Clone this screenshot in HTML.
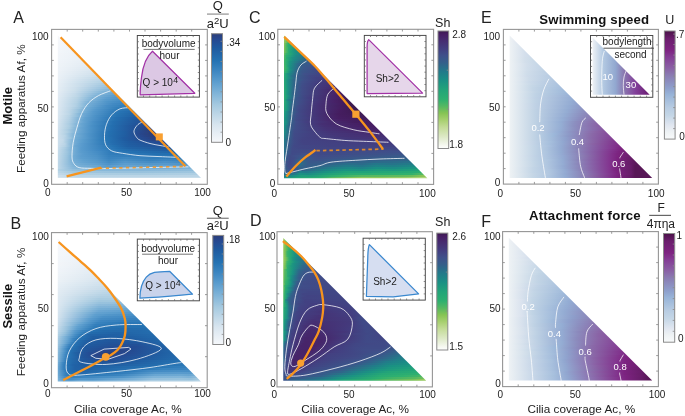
<!DOCTYPE html>
<html><head><meta charset="utf-8"><style>
html,body{margin:0;padding:0;background:#fff}
body{width:685px;height:416px;overflow:hidden;position:relative;font-family:"Liberation Sans",sans-serif}
.h{position:absolute}
.h div{height:2px;width:100%}
svg{position:absolute;left:0;top:0;will-change:transform}
svg text{font-family:"Liberation Sans",sans-serif}
</style></head><body>
<div class="h" style="left:57px;top:35px;width:145px;height:144px;clip-path:polygon(0.83px 0.60px,0.83px 143.10px,144.07px 143.10px)"><div style="background:linear-gradient(90deg,#f6f8fb 0px,#f4f7fa 6px)"></div><div style="background:linear-gradient(90deg,#f6f8fb 0px,#f3f6fa 8px)"></div><div style="background:linear-gradient(90deg,#f6f8fb 0px,#f2f5f9 10px)"></div><div style="background:linear-gradient(90deg,#f5f7fb 0px,#f1f5f9 12px)"></div><div style="background:linear-gradient(90deg,#f4f7fa 0px,#f0f4f9 14px)"></div><div style="background:linear-gradient(90deg,#f4f7fa 0px,#eff3f8 16px)"></div><div style="background:linear-gradient(90deg,#f3f6fa 0px,#eef3f8 18px)"></div><div style="background:linear-gradient(90deg,#f3f6fa 0px,#edf2f7 20px)"></div><div style="background:linear-gradient(90deg,#f2f6fa 0px,#ecf2f7 22px)"></div><div style="background:linear-gradient(90deg,#f2f5f9 0px,#ebf1f7 24px)"></div><div style="background:linear-gradient(90deg,#f1f5f9 0px,#eaf0f6 26px)"></div><div style="background:linear-gradient(90deg,#f1f5f9 0px,#e8eff6 28px)"></div><div style="background:linear-gradient(90deg,#f0f5f9 0px,#e7eef5 30px)"></div><div style="background:linear-gradient(90deg,#f0f4f9 0px,#e4edf4 32px)"></div><div style="background:linear-gradient(90deg,#eff4f8 0px,#e2ebf3 34px)"></div><div style="background:linear-gradient(90deg,#eff4f8 0px,#dfe9f2 36px)"></div><div style="background:linear-gradient(90deg,#eef3f8 0px,#dbe7f0 38px)"></div><div style="background:linear-gradient(90deg,#eef3f8 0px,#d8e5ef 38px,#d7e4ef 40px)"></div><div style="background:linear-gradient(90deg,#edf2f7 0px,#d4e3ee 38px,#d0e1ed 42px)"></div><div style="background:linear-gradient(90deg,#ecf2f7 0px,#d1e1ed 38px,#caddeb 44px)"></div><div style="background:linear-gradient(90deg,#ebf1f7 0px,#cee0ec 36px,#c2d9e9 46px)"></div><div style="background:linear-gradient(90deg,#ebf1f6 0px,#c4dae9 40px,#bbd5e6 48px)"></div><div style="background:linear-gradient(90deg,#eaf0f6 0px,#b6d2e5 48px,#b2d1e4 50px)"></div><div style="background:linear-gradient(90deg,#e9f0f6 0px,#adcee2 50px,#a9cce1 52px)"></div><div style="background:linear-gradient(90deg,#e8eff5 0px,#c6dbea 26px,#a0c7df 52px,#9dc5de 54px)"></div><div style="background:linear-gradient(90deg,#e7eff5 0px,#cbdeeb 22px,#97c1dd 52px,#8ebcdb 56px)"></div><div style="background:linear-gradient(90deg,#e6eef5 0px,#cddfec 18px,#8abada 54px,#7fb4d8 58px)"></div><div style="background:linear-gradient(90deg,#e6eef4 0px,#ccdfeb 18px,#71abd4 60px)"></div><div style="background:linear-gradient(90deg,#e5edf4 0px,#c9ddeb 18px,#82b5d8 46px,#65a3d1 62px)"></div><div style="background:linear-gradient(90deg,#e4ecf4 0px,#c4dae9 18px,#7bb1d7 44px,#5a9ccd 64px)"></div><div style="background:linear-gradient(90deg,#e3ecf3 0px,#bed7e7 20px,#75add5 42px,#5699cc 60px,#5196ca 66px)"></div><div style="background:linear-gradient(90deg,#e2ebf3 0px,#b8d4e5 20px,#7eb3d8 36px,#5d9ecf 50px,#4990c6 68px)"></div><div style="background:linear-gradient(90deg,#e1ebf3 0px,#b5d2e5 20px,#7fb3d8 34px,#5a9ccd 48px,#448cc4 66px,#428ac3 70px)"></div><div style="background:linear-gradient(90deg,#e0eaf2 0px,#b3d1e4 20px,#7ab0d6 32px,#5095c9 50px,#3e87c2 66px,#3b85c0 72px)"></div><div style="background:linear-gradient(90deg,#e0eaf2 0px,#afcfe3 20px,#73acd5 32px,#428ac3 56px,#3580bc 74px)"></div><div style="background:linear-gradient(90deg,#dfe9f2 0px,#b5d2e5 18px,#9bc4de 24px,#71abd4 32px,#468dc5 50px,#337fbb 66px,#2d7ab8 76px)"></div><div style="background:linear-gradient(90deg,#dee9f2 0px,#bbd5e6 14px,#a0c6df 22px,#70aad4 30px,#579acc 40px,#337fbb 60px,#2572b2 78px)"></div><div style="background:linear-gradient(90deg,#dee9f1 0px,#bfd7e7 12px,#9ec5de 20px,#6ea9d3 30px,#5699cc 38px,#2e7ab8 60px,#236bac 80px)"></div><div style="background:linear-gradient(90deg,#dde8f1 0px,#bcd6e7 12px,#9dc5de 20px,#71abd4 28px,#5699cc 36px,#2774b4 62px,#2163a7 82px)"></div><div style="background:linear-gradient(90deg,#dce8f1 0px,#bed7e7 12px,#9ec5de 18px,#70aad4 26px,#5598cb 36px,#2674b3 60px,#205da1 84px)"></div><div style="background:linear-gradient(90deg,#dce7f0 0px,#b8d4e5 12px,#93bfdc 20px,#68a5d2 28px,#4c92c7 38px,#2572b2 60px,#20589d 86px)"></div><div style="background:linear-gradient(90deg,#dbe7f0 0px,#b6d2e5 12px,#89b9da 20px,#61a1d0 28px,#3680bd 48px,#2470b1 58px,#1f5ba0 78px,#225399 88px)"></div><div style="background:linear-gradient(90deg,#dae6f0 0px,#b3d1e4 12px,#66a4d1 26px,#498fc6 38px,#2470b0 58px,#20589e 78px,#244e95 90px)"></div><div style="background:linear-gradient(90deg,#d9e6ef 0px,#b0cfe3 12px,#68a5d2 26px,#498fc6 36px,#246fb0 56px,#21559b 80px,#264991 92px)"></div><div style="background:linear-gradient(90deg,#d8e5ef 0px,#accde2 12px,#69a6d2 24px,#4990c6 36px,#246fb0 56px,#21559b 78px,#27468c 92px,#284486 94px)"></div><div style="background:linear-gradient(90deg,#d6e4ee 0px,#aecee2 12px,#6ba7d2 24px,#4b91c7 34px,#2470b0 54px,#21549a 76px,#27468b 90px,#2b407d 96px)"></div><div style="background:linear-gradient(90deg,#d5e3ee 0px,#abcde1 12px,#6da8d3 22px,#4c92c8 34px,#2470b1 54px,#21549a 76px,#284588 88px,#2c3e78 98px)"></div><div style="background:linear-gradient(90deg,#d4e3ee 0px,#aecee2 10px,#6fa9d3 22px,#5095c9 32px,#246fb0 54px,#21549a 76px,#2a4280 90px,#2c3e78 96px,#2c3e78 100px)"></div><div style="background:linear-gradient(90deg,#d2e2ed 0px,#b1d0e3 10px,#6da8d3 22px,#4c91c7 34px,#2470b1 52px,#205ea2 68px,#27478d 84px,#2c3e78 96px,#2c3e78 102px)"></div><div style="background:linear-gradient(90deg,#d2e2ed 0px,#b5d2e4 8px,#92bedc 14px,#6fa9d3 20px,#4e93c8 32px,#2470b0 52px,#205ea2 68px,#27468b 84px,#2c3e78 96px,#2c3e78 104px)"></div><div style="background:linear-gradient(90deg,#d1e1ed 0px,#bad5e6 8px,#91bedc 14px,#71abd4 20px,#4e93c8 32px,#246fb0 52px,#205da1 68px,#27468c 86px,#2b3f7a 96px,#2c3e79 106px)"></div><div style="background:linear-gradient(90deg,#d0e1ed 0px,#c1d8e8 6px,#98c2dd 14px,#73acd4 18px,#599bcd 28px,#2674b3 50px,#205da2 66px,#27468c 90px,#2a417f 96px,#2b407d 108px)"></div><div style="background:linear-gradient(90deg,#cfe0ec 0px,#c4dae9 6px,#8dbbdb 14px,#70aad4 18px,#5a9ccd 26px,#2674b4 50px,#1f5ca0 68px,#27478d 92px,#284486 96px,#294383 110px)"></div><div style="background:linear-gradient(90deg,#cfe0ec 0px,#c2d9e8 6px,#99c3dd 12px,#72abd4 18px,#5e9fcf 24px,#2c79b7 48px,#246eaf 54px,#1f5ba0 72px,#264890 104px,#27468a 112px)"></div><div style="background:linear-gradient(90deg,#cfe0ec 0px,#b9d4e6 8px,#96c0dd 12px,#70aad4 18px,#5b9cce 24px,#2d79b7 48px,#246daf 56px,#205da1 72px,#254a91 114px)"></div><div style="background:linear-gradient(90deg,#cedfec 0px,#b5d2e4 8px,#8abada 14px,#6ba7d2 18px,#5699cc 26px,#2572b2 56px,#2060a4 70px,#225298 104px,#235097 116px)"></div><div style="background:linear-gradient(90deg,#ccdfec 0px,#accde2 8px,#6faad4 18px,#599bcd 24px,#3681bd 46px,#2470b1 60px,#2164a7 72px,#21569b 114px,#20579d 118px)"></div><div style="background:linear-gradient(90deg,#cbdeeb 0px,#a8cbe1 8px,#6faad4 18px,#599bcd 24px,#3e87c2 42px,#2573b3 62px,#236aac 76px,#1f5ca1 112px,#205fa3 120px)"></div><div style="background:linear-gradient(90deg,#caddeb 0px,#9fc6df 10px,#6fa9d3 18px,#5a9ccd 24px,#438bc4 42px,#2f7bb9 54px,#2470b1 76px,#2265a7 116px,#2267a9 122px)"></div><div style="background:linear-gradient(90deg,#c8ddea 0px,#9dc5de 10px,#6ea9d3 18px,#599bcd 26px,#488fc6 40px,#337ebb 52px,#2470b1 96px,#246eaf 124px)"></div><div style="background:linear-gradient(90deg,#c7dcea 0px,#9bc4de 10px,#72acd4 16px,#5c9dce 24px,#4c92c7 40px,#3681bd 52px,#347fbc 72px,#2875b4 112px,#2876b5 126px)"></div><div style="background:linear-gradient(90deg,#c7dcea 0px,#9ac3dd 10px,#73acd5 16px,#5e9fcf 24px,#4f94c9 40px,#3983bf 52px,#3e87c1 70px,#337ebb 96px,#317dba 126px,#337ebb 128px)"></div><div style="background:linear-gradient(90deg,#c6dbea 0px,#99c2dd 10px,#74add5 16px,#60a1d0 26px,#5397ca 40px,#3d87c1 52px,#488fc6 68px,#3983be 94px,#3e87c2 108px,#3983bf 126px,#3f88c2 130px)"></div><div style="background:linear-gradient(90deg,#c5dae9 0px,#98c2dd 10px,#77aed6 16px,#64a3d1 26px,#5598cb 42px,#448cc4 52px,#5296ca 68px,#458cc4 94px,#4b91c7 108px,#438bc4 124px,#4f94c9 132px)"></div><div style="background:linear-gradient(90deg,#c4dae9 0px,#7db2d7 16px,#6ea9d3 24px,#5e9fcf 40px,#4d92c8 52px,#5c9dce 68px,#5397ca 94px,#5799cc 108px,#5095c9 124px,#5fa0cf 134px)"></div><div style="background:linear-gradient(90deg,#c3dae9 0px,#82b5d8 16px,#75add5 24px,#69a6d2 40px,#579acc 50px,#60a0d0 60px,#65a3d1 72px,#5fa0cf 94px,#64a2d0 108px,#5d9ecf 124px,#6ea9d3 136px)"></div><div style="background:linear-gradient(90deg,#c3dae9 0px,#88b8da 16px,#7db2d7 24px,#79b0d6 36px,#62a2d0 50px,#69a6d2 60px,#70aad4 68px,#74add5 72px,#7eb3d7 136px,#7fb3d8 138px)"></div><div style="background:linear-gradient(90deg,#b6d3e5 0px,#93bfdc 16px,#88b9da 38px,#87b8da 86px,#8fbddb 138px,#90bddb 140px)"></div><div style="background:linear-gradient(90deg,#bdd7e7 0px,#a0c7df 18px,#99c2dd 54px,#98c2dd 82px,#9fc6df 140px,#a0c7df 142px)"></div><div style="background:linear-gradient(90deg,#c5dae9 0px,#aecee2 18px,#a9cce1 82px,#afcfe3 144px)"></div><div style="background:linear-gradient(90deg,#cddfec 0px,#bad5e6 20px,#bbd5e6 142px,#bcd6e7 146px)"></div><div style="background:linear-gradient(90deg,#d6e4ee 0px,#c6dbea 22px,#c8ddea 146px)"></div></div>
<div class="h" style="left:57px;top:238px;width:144px;height:144px;clip-path:polygon(0.73px 0.80px,0.73px 143.50px,143.97px 143.50px)"><div style="background:linear-gradient(90deg,#f6f8fb 0px,#f5f7fa 6px)"></div><div style="background:linear-gradient(90deg,#f6f8fb 0px,#f4f7fa 8px)"></div><div style="background:linear-gradient(90deg,#f6f8fb 0px,#f3f6fa 10px)"></div><div style="background:linear-gradient(90deg,#f6f8fb 0px,#f3f6fa 12px)"></div><div style="background:linear-gradient(90deg,#f6f8fb 0px,#f2f6f9 14px)"></div><div style="background:linear-gradient(90deg,#f5f8fb 0px,#f2f5f9 16px)"></div><div style="background:linear-gradient(90deg,#f5f7fb 0px,#f1f5f9 18px)"></div><div style="background:linear-gradient(90deg,#f4f7fa 0px,#f0f4f9 20px)"></div><div style="background:linear-gradient(90deg,#f4f7fa 0px,#eff4f8 22px)"></div><div style="background:linear-gradient(90deg,#f3f6fa 0px,#eef3f8 24px)"></div><div style="background:linear-gradient(90deg,#f3f6fa 0px,#edf2f7 26px)"></div><div style="background:linear-gradient(90deg,#f2f6fa 0px,#ebf1f7 28px)"></div><div style="background:linear-gradient(90deg,#f2f5f9 0px,#eaf0f6 30px)"></div><div style="background:linear-gradient(90deg,#f2f5f9 0px,#e8eff5 32px)"></div><div style="background:linear-gradient(90deg,#f1f5f9 0px,#e6eef5 34px)"></div><div style="background:linear-gradient(90deg,#f0f4f9 0px,#e4edf4 36px)"></div><div style="background:linear-gradient(90deg,#f0f4f9 0px,#e2ebf3 38px)"></div><div style="background:linear-gradient(90deg,#eff4f8 0px,#e0eaf2 40px)"></div><div style="background:linear-gradient(90deg,#eef3f8 0px,#dde8f1 42px)"></div><div style="background:linear-gradient(90deg,#edf2f7 0px,#dbe7f0 44px)"></div><div style="background:linear-gradient(90deg,#ecf2f7 0px,#d8e5ef 46px)"></div><div style="background:linear-gradient(90deg,#ebf1f6 0px,#d4e3ee 48px)"></div><div style="background:linear-gradient(90deg,#e9f0f6 0px,#cfe0ec 50px)"></div><div style="background:linear-gradient(90deg,#e7eff5 0px,#cbdeeb 52px)"></div><div style="background:linear-gradient(90deg,#e6eef5 0px,#cee0ec 38px,#c6dcea 54px)"></div><div style="background:linear-gradient(90deg,#e4edf4 0px,#d0e0ec 32px,#c2d9e8 56px)"></div><div style="background:linear-gradient(90deg,#e3ecf3 0px,#cddfec 30px,#c1d9e8 46px,#bcd6e7 58px)"></div><div style="background:linear-gradient(90deg,#e2ebf3 0px,#c9ddea 30px,#bcd6e7 46px,#b5d2e5 60px)"></div><div style="background:linear-gradient(90deg,#e1ebf2 0px,#c4dae9 30px,#b7d3e5 44px,#b3d1e4 58px,#aecee2 62px)"></div><div style="background:linear-gradient(90deg,#e0eaf2 0px,#bbd5e6 32px,#b1d0e3 44px,#afcfe3 56px,#a5cae0 64px)"></div><div style="background:linear-gradient(90deg,#dfeaf2 0px,#aacce1 42px,#a9cce1 56px,#9ac3dd 66px)"></div><div style="background:linear-gradient(90deg,#dfe9f2 0px,#a2c8df 42px,#a2c8df 56px,#8fbcdb 68px)"></div><div style="background:linear-gradient(90deg,#dee9f2 0px,#98c2dd 42px,#97c1dd 56px,#83b6d9 70px)"></div><div style="background:linear-gradient(90deg,#dee9f1 0px,#8dbbdb 42px,#89b9da 58px,#78afd6 72px)"></div><div style="background:linear-gradient(90deg,#dde8f1 0px,#96c1dd 32px,#81b4d8 42px,#7db2d7 60px,#6da8d3 74px)"></div><div style="background:linear-gradient(90deg,#dce8f1 0px,#96c1dd 28px,#76aed5 42px,#6ea9d3 64px,#62a1d0 76px)"></div><div style="background:linear-gradient(90deg,#dbe7f0 0px,#90bddb 28px,#6ca7d3 42px,#5e9fcf 70px,#589bcc 78px)"></div><div style="background:linear-gradient(90deg,#dae6f0 0px,#8bbada 26px,#64a2d0 40px,#5c9ece 54px,#4f94c9 80px)"></div><div style="background:linear-gradient(90deg,#d9e6ef 0px,#5e9fcf 38px,#5397ca 50px,#458dc5 82px)"></div><div style="background:linear-gradient(90deg,#d8e5ef 0px,#5d9ece 36px,#4b91c7 46px,#3c86c1 84px)"></div><div style="background:linear-gradient(90deg,#d5e4ee 0px,#5d9ecf 32px,#458cc4 44px,#3983bf 74px,#3580bc 86px)"></div><div style="background:linear-gradient(90deg,#d3e2ee 0px,#8cbbdb 18px,#5296ca 34px,#3d86c1 44px,#327dba 72px,#2f7bb9 88px)"></div><div style="background:linear-gradient(90deg,#d1e1ed 0px,#92bedc 14px,#5c9ece 28px,#3a84bf 40px,#2b78b7 64px,#2a77b6 90px)"></div><div style="background:linear-gradient(90deg,#cedfec 0px,#9ac3de 12px,#64a3d1 22px,#347fbc 38px,#2573b3 62px,#2674b4 92px)"></div><div style="background:linear-gradient(90deg,#cbdeeb 0px,#99c2dd 10px,#62a2d0 20px,#2e7bb8 38px,#2571b1 52px,#2471b1 92px,#2572b2 94px)"></div><div style="background:linear-gradient(90deg,#c7dcea 0px,#97c1dd 10px,#5c9ece 20px,#317dba 34px,#2571b2 40px,#236bac 70px,#2470b1 96px)"></div><div style="background:linear-gradient(90deg,#c2d9e9 0px,#9dc5de 8px,#5799cc 18px,#3a84bf 26px,#2571b2 36px,#236aab 46px,#2369ab 82px,#246faf 98px)"></div><div style="background:linear-gradient(90deg,#bdd7e7 0px,#95c0dc 8px,#5196ca 18px,#3883be 24px,#236bac 34px,#2163a6 60px,#246dae 98px,#246daf 100px)"></div><div style="background:linear-gradient(90deg,#b8d4e5 0px,#8cbbdb 8px,#478ec5 18px,#2c79b7 24px,#2265a8 32px,#2060a4 56px,#2369ab 96px,#236cae 102px)"></div><div style="background:linear-gradient(90deg,#b3d1e4 0px,#7cb2d7 8px,#3e87c1 18px,#2573b3 24px,#205ea2 36px,#2060a4 74px,#2269ab 98px,#236bac 104px)"></div><div style="background:linear-gradient(90deg,#aecee2 0px,#6ca8d3 10px,#3c85c0 16px,#2573b3 22px,#1f5ca0 36px,#205ca1 72px,#2266a9 98px,#2369ab 106px)"></div><div style="background:linear-gradient(90deg,#aacce1 0px,#64a3d1 10px,#3a84bf 16px,#2571b2 20px,#205ea2 30px,#21569c 60px,#2162a5 96px,#2268aa 108px)"></div><div style="background:linear-gradient(90deg,#a8cbe1 0px,#6fa9d3 8px,#3e87c1 14px,#2573b3 18px,#205fa3 28px,#21549a 54px,#21569c 82px,#2268aa 110px)"></div><div style="background:linear-gradient(90deg,#a5c9e0 0px,#71abd4 6px,#3c85c0 12px,#2571b2 18px,#1f5ca0 28px,#235096 58px,#235097 80px,#2164a7 108px,#2267a9 112px)"></div><div style="background:linear-gradient(90deg,#a1c7df 0px,#5497cb 8px,#347fbc 12px,#2573b3 16px,#1f5a9f 26px,#244d94 56px,#244c94 78px,#2161a4 108px,#2267a9 114px)"></div><div style="background:linear-gradient(90deg,#9cc4de 0px,#4a91c7 8px,#2b78b7 12px,#246eaf 16px,#21569b 30px,#264890 56px,#26488f 68px,#205da2 106px,#2267a9 116px)"></div><div style="background:linear-gradient(90deg,#98c2dd 0px,#4d92c8 8px,#2a77b6 12px,#246fb0 14px,#21559b 28px,#27468c 46px,#294384 54px,#294485 62px,#244d94 78px,#2161a4 108px,#2267aa 118px)"></div><div style="background:linear-gradient(90deg,#94c0dc 0px,#478ec5 8px,#2774b4 12px,#2162a5 18px,#244d95 32px,#27478e 40px,#2a4281 48px,#2c3f7a 54px,#284487 60px,#254c93 74px,#205fa3 106px,#2268aa 120px)"></div><div style="background:linear-gradient(90deg,#91bedc 0px,#428ac3 8px,#2573b3 12px,#1f5b9f 22px,#264890 36px,#2a4281 44px,#2b407d 54px,#264890 62px,#205fa3 104px,#236aab 122px)"></div><div style="background:linear-gradient(90deg,#8fbddb 0px,#3f88c2 8px,#2571b2 12px,#21559b 26px,#27468a 42px,#294486 52px,#254a92 58px,#205fa3 100px,#236bad 124px)"></div><div style="background:linear-gradient(90deg,#8dbbdb 0px,#3b85c0 8px,#2674b4 10px,#2268aa 16px,#21559b 28px,#254a91 46px,#244c94 56px,#2060a3 98px,#246eaf 126px)"></div><div style="background:linear-gradient(90deg,#88b9da 0px,#3882be 8px,#2572b2 10px,#20589d 26px,#234f95 54px,#1f5ba0 74px,#2369ab 106px,#2471b1 128px)"></div><div style="background:linear-gradient(90deg,#81b5d8 0px,#3d86c1 6px,#2674b3 10px,#2266a9 16px,#1f5a9f 28px,#20579c 54px,#236bac 104px,#2674b4 130px)"></div><div style="background:linear-gradient(90deg,#7bb1d7 0px,#3a84bf 6px,#2572b2 10px,#2163a7 16px,#1f5ca0 28px,#2160a4 60px,#236cad 98px,#2a77b6 124px,#2c79b7 132px)"></div><div style="background:linear-gradient(90deg,#76aed5 0px,#3983bf 6px,#2573b3 10px,#2161a5 18px,#205ea2 28px,#2572b2 94px,#317dba 120px,#347fbc 132px,#3580bc 134px)"></div><div style="background:linear-gradient(90deg,#74acd5 0px,#3a84bf 6px,#2571b2 10px,#2161a5 18px,#2161a4 30px,#2875b5 84px,#3883be 106px,#3983bf 124px,#3f88c2 134px,#428ac3 136px)"></div><div style="background:linear-gradient(90deg,#73acd5 0px,#3580bc 8px,#2573b3 10px,#2163a6 20px,#2976b5 70px,#4189c3 92px,#488fc6 120px,#478ec6 132px,#5397ca 138px)"></div><div style="background:linear-gradient(90deg,#74add5 0px,#3983be 8px,#2571b2 12px,#2268ab 24px,#2b78b7 56px,#3781bd 72px,#5598cb 98px,#599bcd 122px,#579acc 134px,#68a5d2 140px)"></div><div style="background:linear-gradient(90deg,#77afd6 0px,#3983be 8px,#2a77b6 12px,#2674b4 24px,#3a84bf 62px,#69a6d2 98px,#6da9d3 124px,#67a5d1 132px,#80b4d8 142px)"></div><div style="background:linear-gradient(90deg,#7bb1d7 0px,#438bc4 8px,#3781bd 12px,#3983be 22px,#448cc4 42px,#5296ca 66px,#7eb3d8 96px,#83b6d9 124px,#7db2d7 132px,#98c2dd 144px)"></div><div style="background:linear-gradient(90deg,#7fb4d8 0px,#5195ca 8px,#468ec5 14px,#5296ca 22px,#5498cb 26px,#5497cb 36px,#7cb1d7 78px,#95c0dd 96px,#99c3dd 124px,#94c0dc 134px,#abcde1 144px)"></div><div style="background:linear-gradient(90deg,#86b8d9 0px,#60a0d0 8px,#5a9ccd 14px,#68a5d2 20px,#6faad4 24px,#6ba7d2 36px,#77aed6 46px,#84b6d9 60px,#8bbada 66px,#98c2dd 82px,#accde2 94px,#adcee2 126px,#abcde1 134px,#bad5e6 144px)"></div></div>
<div class="h" style="left:284px;top:35px;width:144px;height:144px;clip-path:polygon(0.03px 0.50px,0.03px 143.20px,143.37px 143.20px)"><div style="background:linear-gradient(90deg,#a5cf6e 0px,#88c556 2px,#4fb764 6px)"></div><div style="background:linear-gradient(90deg,#9fcd68 0px,#8fc75c 2px,#7ec256 2px,#54b862 4px,#35b26d 6px,#2caf71 8px)"></div><div style="background:linear-gradient(90deg,#97ca62 0px,#87c455 2px,#49b666 4px,#2caf71 6px,#24a677 10px)"></div><div style="background:linear-gradient(90deg,#90c75c 0px,#7cc257 2px,#4fb764 4px,#2db070 6px,#1e9b7e 12px)"></div><div style="background:linear-gradient(90deg,#8ac658 0px,#59b961 2px,#32b16e 4px,#27aa75 6px,#1b9283 14px)"></div><div style="background:linear-gradient(90deg,#88c555 0px,#53b863 2px,#2caf70 4px,#1d9880 10px,#1d8986 16px)"></div><div style="background:linear-gradient(90deg,#87c455 0px,#51b763 2px,#3bb36b 4px,#2cae71 4px,#1c9681 10px,#1e8587 16px,#1f8288 18px)"></div><div style="background:linear-gradient(90deg,#86c454 0px,#4fb764 2px,#38b26c 4px,#2bae72 4px,#1c9581 10px,#227b89 20px)"></div><div style="background:linear-gradient(90deg,#7ac157 0px,#31b16e 4px,#22a479 6px,#1b8e84 12px,#26748a 22px)"></div><div style="background:linear-gradient(90deg,#6bbd5c 0px,#3bb36b 2px,#2caf71 4px,#1c9581 10px,#1f8387 16px,#2b6c8a 24px)"></div><div style="background:linear-gradient(90deg,#5ab960 0px,#2eb070 2px,#1e9a7f 8px,#1d8986 12px,#31648a 26px)"></div><div style="background:linear-gradient(90deg,#4eb764 0px,#37b26d 2px,#2aad72 2px,#1b9283 8px,#2f678a 22px,#355d8a 28px)"></div><div style="background:linear-gradient(90deg,#46b567 0px,#2eb06f 2px,#1e9b7e 6px,#1d8986 10px,#31648a 22px,#39598a 30px)"></div><div style="background:linear-gradient(90deg,#44b568 0px,#2db070 2px,#1b9482 6px,#2b6d8a 16px,#365c8a 24px,#3c548a 32px)"></div><div style="background:linear-gradient(90deg,#46b567 0px,#2eb070 2px,#1b9383 6px,#2d6a8a 14px,#365c8a 20px,#3f508a 34px)"></div><div style="background:linear-gradient(90deg,#49b666 0px,#31b16f 2px,#20a07b 4px,#1b9183 6px,#2d698a 14px,#375b8a 18px,#404c88 36px)"></div><div style="background:linear-gradient(90deg,#4bb666 0px,#32b16e 2px,#24a678 4px,#1a8f84 6px,#2f668a 14px,#3b568a 20px,#414986 38px)"></div><div style="background:linear-gradient(90deg,#47b567 0px,#2db070 2px,#1b9382 6px,#2c6b8a 12px,#39588a 18px,#414886 34px,#414684 40px)"></div><div style="background:linear-gradient(90deg,#38b26c 0px,#2aad73 2px,#1b8d85 6px,#2f678a 12px,#3a568a 18px,#424584 38px,#424383 42px)"></div><div style="background:linear-gradient(90deg,#2caf71 0px,#1a8f84 4px,#30648a 12px,#3f518a 20px,#424282 40px,#424182 44px)"></div><div style="background:linear-gradient(90deg,#29ac73 0px,#1b9382 4px,#28718a 8px,#385a8a 14px,#414885 26px,#433e80 46px)"></div><div style="background:linear-gradient(90deg,#28aa74 0px,#1b9382 4px,#2c6b8a 10px,#3b558a 16px,#424182 32px,#433b7e 48px)"></div><div style="background:linear-gradient(90deg,#27aa75 0px,#1c8c85 4px,#2f668a 10px,#3f4f89 20px,#433c7e 38px,#44377a 50px)"></div><div style="background:linear-gradient(90deg,#28aa74 0px,#1b8d85 4px,#30668a 10px,#3f508a 18px,#433d7f 34px,#453275 52px)"></div><div style="background:linear-gradient(90deg,#28ab74 0px,#1b8e84 4px,#30658a 10px,#3f4e89 18px,#433b7e 34px,#462e71 54px)"></div><div style="background:linear-gradient(90deg,#29ab74 0px,#1a8f84 4px,#31648a 10px,#404d88 18px,#44377a 38px,#46296e 56px)"></div><div style="background:linear-gradient(90deg,#29ac73 0px,#1a9084 4px,#31638a 10px,#404c88 18px,#462b6f 48px,#472469 58px)"></div><div style="background:linear-gradient(90deg,#2aad73 0px,#1a9084 4px,#32628a 10px,#404d88 18px,#46276c 48px,#472065 60px)"></div><div style="background:linear-gradient(90deg,#2aad72 0px,#1a8f84 4px,#33608a 10px,#404c88 18px,#47256a 50px,#451d60 60px,#441d5e 62px)"></div><div style="background:linear-gradient(90deg,#2bae72 0px,#1b8d85 4px,#345f8a 10px,#404c88 18px,#472368 52px,#441d5e 60px,#401b56 64px)"></div><div style="background:linear-gradient(90deg,#2bae71 0px,#1b9382 4px,#28708a 8px,#375a8a 12px,#414785 20px,#471f65 54px,#3d1a51 66px)"></div><div style="background:linear-gradient(90deg,#2caf71 0px,#1a8f84 4px,#2a6e8a 8px,#3a568a 12px,#424081 24px,#471e63 56px,#3c1a50 66px,#3c1a50 68px)"></div><div style="background:linear-gradient(90deg,#2db070 0px,#1d9880 2px,#207f88 4px,#365c8a 10px,#404a87 18px,#472268 50px,#431d5d 58px,#3c1a50 66px,#3c1a50 70px)"></div><div style="background:linear-gradient(90deg,#2bad72 0px,#1b8c85 4px,#2c6b8a 8px,#3c558a 12px,#434081 24px,#472268 50px,#441d5e 58px,#3c1a50 66px,#3c1a50 72px)"></div><div style="background:linear-gradient(90deg,#29ab74 0px,#1b8e84 4px,#31638a 8px,#404c88 16px,#453276 34px,#451d61 58px,#3c1a50 66px,#3c1a50 74px)"></div><div style="background:linear-gradient(90deg,#27a975 0px,#1b8e84 4px,#32628a 8px,#404d88 14px,#453275 34px,#441d5f 58px,#3c1a50 68px,#3c1a50 76px)"></div><div style="background:linear-gradient(90deg,#25a876 0px,#1b8d85 4px,#33608a 8px,#404c88 14px,#453275 34px,#451d60 58px,#3c1a50 70px,#3c1a50 78px)"></div><div style="background:linear-gradient(90deg,#24a678 0px,#1c8b85 4px,#345f8a 8px,#404a87 14px,#453276 34px,#461d61 56px,#3c1a50 72px,#3c1a50 80px)"></div><div style="background:linear-gradient(90deg,#22a479 0px,#1b9283 2px,#2b6d8a 6px,#38598a 10px,#414785 16px,#453276 34px,#451d60 56px,#3d1a52 74px,#3e1b53 82px)"></div><div style="background:linear-gradient(90deg,#21a17b 0px,#1a9084 2px,#32638a 8px,#404e89 12px,#433f81 22px,#451d60 54px,#3f1b55 76px,#401b57 84px)"></div><div style="background:linear-gradient(90deg,#209f7c 0px,#1b8e85 2px,#375b8a 8px,#404a87 14px,#46276b 44px,#451d60 56px,#411c58 76px,#421c5b 86px)"></div><div style="background:linear-gradient(90deg,#1f9c7d 0px,#1c8b85 2px,#345f8a 8px,#404c88 12px,#433e80 24px,#461e63 54px,#421c5b 76px,#441d5f 86px,#431d5d 88px)"></div><div style="background:linear-gradient(90deg,#1e9b7e 0px,#1d8986 2px,#355e8a 8px,#404b87 12px,#462d71 40px,#472065 56px,#431d5d 76px,#461e63 86px,#441d5e 90px)"></div><div style="background:linear-gradient(90deg,#1e997f 0px,#1a9184 2px,#31638a 6px,#404e89 12px,#433f81 22px,#462b6f 46px,#441d5f 72px,#471e64 88px,#441d5f 92px)"></div><div style="background:linear-gradient(90deg,#1d9880 0px,#1a8f84 2px,#33608a 6px,#404d88 12px,#452f73 38px,#461e62 78px,#471e64 90px,#451d61 94px)"></div><div style="background:linear-gradient(90deg,#1d9780 0px,#1f8387 2px,#345e8a 6px,#404c88 12px,#453074 40px,#471f65 78px,#461e63 96px)"></div><div style="background:linear-gradient(90deg,#1c9681 0px,#208188 2px,#365d8a 6px,#404c88 12px,#453275 42px,#472267 80px,#471f65 98px)"></div><div style="background:linear-gradient(90deg,#1c9581 0px,#217e89 2px,#33618a 6px,#404d89 10px,#414684 18px,#453377 42px,#47256a 82px,#472167 100px)"></div><div style="background:linear-gradient(90deg,#1a9184 0px,#345f8a 6px,#404c88 10px,#414684 20px,#443578 44px,#46276b 90px,#47256a 102px)"></div><div style="background:linear-gradient(90deg,#1c8c85 0px,#355e8a 6px,#404b87 10px,#424484 20px,#443679 48px,#46296e 104px)"></div><div style="background:linear-gradient(90deg,#1d8786 0px,#365c8a 6px,#404b87 10px,#424383 22px,#453477 60px,#462e72 106px)"></div><div style="background:linear-gradient(90deg,#1f8387 0px,#375b8a 6px,#404a87 10px,#424282 22px,#443578 70px,#453276 108px)"></div><div style="background:linear-gradient(90deg,#207f88 0px,#355e8a 4px,#404b87 10px,#424383 18px,#44377a 94px,#443679 110px)"></div><div style="background:linear-gradient(90deg,#217c89 0px,#365d8a 4px,#404b87 10px,#424383 18px,#433c7e 94px,#44397b 112px)"></div><div style="background:linear-gradient(90deg,#227a8a 0px,#375b8a 4px,#404a87 10px,#424383 20px,#433f81 84px,#433c7e 112px,#433c7e 114px)"></div><div style="background:linear-gradient(90deg,#24778a 0px,#385a8a 4px,#414886 10px,#424282 46px,#424282 82px,#424182 110px,#433f80 116px)"></div><div style="background:linear-gradient(90deg,#25758a 0px,#355d8a 4px,#404b87 8px,#414685 18px,#424484 48px,#424483 80px,#414785 108px,#424383 118px)"></div><div style="background:linear-gradient(90deg,#26738a 0px,#375b8a 4px,#404b87 8px,#414684 44px,#414785 80px,#404c88 106px,#414885 120px)"></div><div style="background:linear-gradient(90deg,#27718a 0px,#385a8a 4px,#404a87 8px,#404b87 26px,#414886 42px,#404d88 82px,#3f4f8a 112px,#404d89 122px)"></div><div style="background:linear-gradient(90deg,#29708a 0px,#3a578a 4px,#404a87 8px,#3e518a 22px,#404986 38px,#3c548a 114px,#3d538a 124px)"></div><div style="background:linear-gradient(90deg,#296f8a 0px,#385a8a 2px,#404b87 6px,#3f508a 12px,#3b568a 20px,#404c88 36px,#39598a 114px,#39588a 126px)"></div><div style="background:linear-gradient(90deg,#25768a 0px,#375a8a 2px,#404b87 6px,#404c88 10px,#365c8a 18px,#3f4f89 34px,#365d8a 98px,#355e8a 128px)"></div><div style="background:linear-gradient(90deg,#22798a 0px,#385a8a 2px,#404a87 6px,#3f4e89 10px,#32628a 16px,#3d528a 32px,#34608a 80px,#2e678a 130px)"></div><div style="background:linear-gradient(90deg,#30658a 0px,#3d538a 2px,#414986 6px,#3f4f8a 10px,#2c6b8a 16px,#3a578a 26px,#375b8a 42px,#31648a 74px,#2c6b8a 100px,#2b6c8a 112px,#27738a 132px)"></div><div style="background:linear-gradient(90deg,#32628a 0px,#3f4e89 4px,#414986 6px,#39588a 12px,#296f8a 16px,#2c6a8a 18px,#375b8a 24px,#365c8a 36px,#296f8a 64px,#2c6a8a 78px,#24778a 92px,#27738a 108px,#207f88 134px)"></div><div style="background:linear-gradient(90deg,#32628a 0px,#404d88 4px,#404c88 8px,#2f668a 14px,#2c6b8a 16px,#365d8a 22px,#32628a 34px,#227b89 62px,#25758a 78px,#1f8287 92px,#217f88 110px,#1c8b85 134px,#1b8e85 136px)"></div><div style="background:linear-gradient(90deg,#33608a 0px,#404d88 6px,#3e528a 10px,#33608a 16px,#33618a 26px,#208088 50px,#1d8886 66px,#1f8288 78px,#1a8f84 92px,#1c8c85 110px,#1c9681 132px,#1f9b7e 138px)"></div><div style="background:linear-gradient(90deg,#345f8a 0px,#3e528a 6px,#3a568a 12px,#2f678a 16px,#32628a 18px,#1f8287 40px,#1c9482 60px,#1b9283 78px,#1f9c7e 94px,#1d9880 110px,#21a17b 132px,#25a876 140px)"></div><div style="background:linear-gradient(90deg,#31638a 0px,#375b8a 4px,#345f8a 10px,#28708a 14px,#208188 16px,#207f88 18px,#23798a 22px,#1c9482 44px,#21a37a 64px,#21a37a 80px,#24a678 100px,#28ab74 132px,#30b16f 140px,#34b16e 142px)"></div><div style="background:linear-gradient(90deg,#2a6e8a 0px,#2d6a8a 4px,#227c89 12px,#1b9283 16px,#1c8b85 24px,#209f7c 42px,#2aac73 66px,#2caf71 104px,#30b16f 124px,#33b16e 128px,#60bb5f 142px,#64bc5e 144px)"></div><div style="background:linear-gradient(90deg,#217e89 0px,#1f8387 4px,#1c9581 12px,#209f7c 18px,#1f9d7d 28px,#31b16f 52px,#56b862 78px,#62bb5e 118px,#6bbd5c 128px,#87c455 138px,#93c85e 144px)"></div><div style="background:linear-gradient(90deg,#1b8f84 0px,#24a677 14px,#2caf71 36px,#3eb36a 42px,#56b862 48px,#88c555 72px,#90c85c 78px,#8ec75a 96px,#95c961 108px,#9acb65 122px,#acd276 136px,#b3d580 144px)"></div></div>
<div class="h" style="left:283px;top:237px;width:144px;height:144px;clip-path:polygon(0.22px 0.91px,0.22px 143.69px,143.18px 143.69px)"><div style="background:linear-gradient(90deg,#aad173 0px,#8fc75b 2px,#7fc256 4px,#6bbd5c 4px)"></div><div style="background:linear-gradient(90deg,#a7d06f 0px,#8ac557 2px,#50b764 6px,#40b469 6px)"></div><div style="background:linear-gradient(90deg,#a2ce6b 0px,#83c355 2px,#47b567 6px,#2caf71 8px,#29ac73 8px)"></div><div style="background:linear-gradient(90deg,#9dcc67 0px,#8dc75a 2px,#7ac157 2px,#3fb46a 6px,#2fb06f 6px,#22a379 10px)"></div><div style="background:linear-gradient(90deg,#99cb64 0px,#89c556 2px,#49b666 4px,#2caf71 6px,#1d9780 12px)"></div><div style="background:linear-gradient(90deg,#96ca61 0px,#85c454 2px,#56b862 4px,#31b16f 6px,#21a27a 10px,#1c8c85 14px)"></div><div style="background:linear-gradient(90deg,#94c960 0px,#82c355 2px,#52b763 4px,#2db070 6px,#1a9183 12px,#1f8288 16px)"></div><div style="background:linear-gradient(90deg,#95c960 0px,#82c355 2px,#3cb36b 4px,#2caf71 6px,#1b9382 12px,#227a89 18px)"></div><div style="background:linear-gradient(90deg,#96ca61 0px,#83c355 2px,#3cb36b 4px,#2caf71 6px,#1b9283 12px,#26748a 20px)"></div><div style="background:linear-gradient(90deg,#99cb63 0px,#87c455 2px,#3fb46a 4px,#2caf71 6px,#1b9283 12px,#24768a 20px,#296f8a 22px)"></div><div style="background:linear-gradient(90deg,#9bcb65 0px,#8ac557 2px,#59b961 4px,#2eb070 6px,#1d9780 10px,#1e8587 14px,#2d6a8a 24px)"></div><div style="background:linear-gradient(90deg,#9ccc66 0px,#8bc658 2px,#5ab961 4px,#30b16f 6px,#1d9780 10px,#1e8487 14px,#30648a 26px)"></div><div style="background:linear-gradient(90deg,#9acb64 0px,#88c555 2px,#3fb46a 4px,#2caf71 6px,#1a9183 12px,#27738a 20px,#355e8a 28px)"></div><div style="background:linear-gradient(90deg,#95c961 0px,#81c355 2px,#37b26d 4px,#2bad72 6px,#1b9382 10px,#296f8a 20px,#375a8a 30px)"></div><div style="background:linear-gradient(90deg,#91c85d 0px,#7ac157 2px,#30b16f 4px,#1e9b7e 8px,#1c8b85 12px,#2e688a 20px,#39588a 30px,#3a578a 32px)"></div><div style="background:linear-gradient(90deg,#8dc65a 0px,#74c059 2px,#41b469 4px,#2daf70 4px,#1b9382 10px,#2c6b8a 18px,#375b8a 24px,#3c548a 34px)"></div><div style="background:linear-gradient(90deg,#8ac557 0px,#54b862 2px,#2caf71 4px,#1b9283 10px,#2c6a8a 16px,#375b8a 22px,#3e528a 36px)"></div><div style="background:linear-gradient(90deg,#88c556 0px,#51b763 2px,#3bb36b 4px,#2bae71 4px,#1a9184 10px,#30658a 16px,#3b568a 22px,#3f508a 38px)"></div><div style="background:linear-gradient(90deg,#87c454 0px,#4fb764 2px,#39b26c 4px,#2bae72 4px,#1a8f84 10px,#33608a 16px,#3e518a 24px,#3f4e89 40px)"></div><div style="background:linear-gradient(90deg,#85c454 0px,#4db665 2px,#37b26d 4px,#2aad72 4px,#1c9482 8px,#24768a 12px,#355d8a 16px,#3f4f8a 24px,#404c88 42px)"></div><div style="background:linear-gradient(90deg,#82c355 0px,#4bb666 2px,#34b16e 4px,#25a876 6px,#1b9383 8px,#27738a 12px,#375a8a 16px,#404e89 24px,#404b87 44px)"></div><div style="background:linear-gradient(90deg,#7fc256 0px,#47b567 2px,#2fb06f 4px,#1a9084 8px,#2f678a 14px,#3b558a 18px,#404d88 24px,#404a87 46px)"></div><div style="background:linear-gradient(90deg,#7ac157 0px,#41b469 2px,#2caf71 4px,#1c9581 8px,#227b89 10px,#365d8a 14px,#404d88 20px,#414986 48px)"></div><div style="background:linear-gradient(90deg,#74c059 0px,#54b862 2px,#3ab36b 2px,#2bad72 4px,#1a9184 8px,#2a6d8a 12px,#385a8a 14px,#404c88 20px,#414886 50px)"></div><div style="background:linear-gradient(90deg,#6ebe5b 0px,#32b16e 2px,#23a678 4px,#1c8c85 8px,#33608a 12px,#404e89 18px,#404c88 26px,#414886 52px)"></div><div style="background:linear-gradient(90deg,#67bc5d 0px,#46b567 2px,#2caf71 2px,#1a9084 6px,#365c8a 12px,#404c88 18px,#404b87 28px,#414885 54px)"></div><div style="background:linear-gradient(90deg,#60bb5f 0px,#3eb36a 2px,#2aad72 2px,#1c9482 6px,#2a6e8a 10px,#38598a 12px,#414986 18px,#414785 56px)"></div><div style="background:linear-gradient(90deg,#59b961 0px,#36b26d 2px,#28ab74 2px,#1b8e85 6px,#345f8a 10px,#404b87 16px,#414685 26px,#414785 58px)"></div><div style="background:linear-gradient(90deg,#53b863 0px,#2db070 2px,#1b9283 4px,#2e688a 8px,#3c548a 12px,#414584 20px,#414785 60px)"></div><div style="background:linear-gradient(90deg,#50b764 0px,#2bae71 2px,#1d9680 4px,#217c89 6px,#33608a 8px,#404b87 16px,#424383 24px,#414684 62px)"></div><div style="background:linear-gradient(90deg,#51b763 0px,#2aac73 2px,#1b8e84 4px,#2e678a 6px,#39588a 10px,#424483 20px,#414584 64px)"></div><div style="background:linear-gradient(90deg,#56b862 0px,#29ab73 2px,#1d987f 2px,#23788a 4px,#32628a 6px,#3d538a 12px,#424282 22px,#424584 66px)"></div><div style="background:linear-gradient(90deg,#48b567 0px,#28aa74 2px,#1f9b7e 2px,#1c8a85 4px,#31638a 6px,#3c548a 10px,#424182 22px,#424383 64px,#424483 68px)"></div><div style="background:linear-gradient(90deg,#3eb36a 0px,#27aa75 2px,#1a8f84 4px,#2e688a 6px,#375b8a 8px,#414684 16px,#433e80 30px,#424383 66px,#424484 70px)"></div><div style="background:linear-gradient(90deg,#38b26c 0px,#27aa75 2px,#1b9283 4px,#2b6d8a 6px,#39588a 10px,#424383 18px,#443a7d 42px,#414584 72px)"></div><div style="background:linear-gradient(90deg,#32b16e 0px,#20a07b 2px,#1b9482 4px,#296f8a 6px,#39588a 10px,#424484 16px,#443a7c 32px,#433f81 64px,#414684 74px)"></div><div style="background:linear-gradient(90deg,#2db070 0px,#1c9482 4px,#28708a 6px,#3a578a 10px,#424383 16px,#44377a 38px,#424081 68px,#414785 76px)"></div><div style="background:linear-gradient(90deg,#2caf71 0px,#1b9382 4px,#296f8a 6px,#3b558a 10px,#424383 14px,#443578 38px,#433f81 68px,#414886 78px)"></div><div style="background:linear-gradient(90deg,#2bae72 0px,#1b9283 4px,#2b6d8a 6px,#385a8a 8px,#414685 12px,#433c7e 22px,#453578 44px,#433f81 68px,#404986 80px)"></div><div style="background:linear-gradient(90deg,#2aad72 0px,#1a9084 4px,#2d6a8a 6px,#3a578a 8px,#424282 14px,#453376 36px,#433d7f 68px,#404a86 80px,#404a87 82px)"></div><div style="background:linear-gradient(90deg,#29ac73 0px,#1b8e85 4px,#365c8a 8px,#404a87 10px,#433e80 16px,#453275 36px,#443b7d 66px,#404a87 78px,#404a87 84px)"></div><div style="background:linear-gradient(90deg,#28ab74 0px,#1d9780 2px,#217e89 4px,#385a8a 8px,#424483 12px,#453275 30px,#443a7c 66px,#404986 78px,#404a86 86px)"></div><div style="background:linear-gradient(90deg,#26a975 0px,#1c9582 2px,#227a89 4px,#345f8a 6px,#404a87 10px,#433d7f 14px,#452f73 32px,#443a7c 68px,#404a87 80px,#414986 88px)"></div><div style="background:linear-gradient(90deg,#25a777 0px,#1b9283 2px,#24778a 4px,#365c8a 6px,#414886 10px,#433d7f 14px,#462d71 30px,#443a7d 68px,#404a87 80px,#414886 90px)"></div><div style="background:linear-gradient(90deg,#24a678 0px,#1a8f84 2px,#38598a 6px,#414684 10px,#453174 22px,#462c70 32px,#443b7d 68px,#404a87 82px,#414885 92px)"></div><div style="background:linear-gradient(90deg,#23a578 0px,#1b8d85 2px,#33608a 6px,#3f4f8a 8px,#433f80 12px,#46296e 28px,#433c7e 68px,#404a87 82px,#414785 94px)"></div><div style="background:linear-gradient(90deg,#22a379 0px,#1c8b85 2px,#2b6c8a 4px,#3c548a 6px,#424282 10px,#46286c 28px,#433c7f 68px,#404a87 84px,#414684 96px)"></div><div style="background:linear-gradient(90deg,#21a17b 0px,#1c9581 2px,#23788a 4px,#375a8a 6px,#414584 8px,#46276c 26px,#44377a 62px,#404a87 84px,#424584 98px)"></div><div style="background:linear-gradient(90deg,#209e7c 0px,#1b9283 2px,#27738a 4px,#3a578a 6px,#424383 8px,#46276b 24px,#46276c 36px,#424483 74px,#404a87 88px,#424483 100px)"></div><div style="background:linear-gradient(90deg,#1f9d7d 0px,#1a9084 2px,#355e8a 4px,#404c88 6px,#433f81 10px,#46266b 24px,#46266b 36px,#404a87 84px,#424484 102px)"></div><div style="background:linear-gradient(90deg,#1f9d7d 0px,#1a8f84 2px,#2c6b8a 4px,#375b8a 4px,#404986 6px,#433d7f 10px,#46256a 22px,#46266b 38px,#44397c 62px,#404a87 84px,#414584 104px)"></div><div style="background:linear-gradient(90deg,#1e9b7e 0px,#1b8d85 2px,#2e678a 4px,#3f4f89 6px,#434081 8px,#47256a 22px,#46256a 38px,#443a7c 60px,#404a87 84px,#414785 106px)"></div><div style="background:linear-gradient(90deg,#1b9283 0px,#27738a 2px,#33618a 4px,#404d88 6px,#433f81 8px,#472469 22px,#46256a 38px,#443b7d 58px,#404a87 84px,#414986 106px,#404a87 108px)"></div><div style="background:linear-gradient(90deg,#1d8786 0px,#2e688a 2px,#3e528a 4px,#424182 8px,#472469 20px,#46256a 36px,#433b7d 56px,#414785 74px,#414986 88px,#404b87 106px,#3f4f89 110px)"></div><div style="background:linear-gradient(90deg,#217d89 0px,#33608a 2px,#414986 6px,#47246a 18px,#472368 32px,#433c7e 54px,#414785 72px,#404a87 84px,#404a87 102px,#3c548a 112px)"></div><div style="background:linear-gradient(90deg,#25758a 0px,#375c8a 2px,#414885 6px,#46266b 16px,#472267 28px,#453174 42px,#433d80 54px,#414886 72px,#404b87 84px,#404b87 100px,#38598a 114px)"></div><div style="background:linear-gradient(90deg,#296f8a 0px,#38598a 2px,#424383 6px,#46256a 16px,#472267 28px,#453174 40px,#433e80 52px,#414785 70px,#404c88 80px,#404d88 98px,#345f8a 116px)"></div><div style="background:linear-gradient(90deg,#2b6c8a 0px,#3a578a 2px,#433e80 8px,#47256a 14px,#472268 26px,#453578 40px,#433f81 52px,#414885 72px,#404c88 84px,#3c548a 102px,#2e688a 118px)"></div><div style="background:linear-gradient(90deg,#2d6a8a 0px,#3b568a 2px,#44387b 8px,#472469 14px,#472469 24px,#434081 46px,#414785 70px,#3b558a 98px,#28718a 120px)"></div><div style="background:linear-gradient(90deg,#2c6b8a 0px,#3c558a 2px,#453578 8px,#472368 12px,#472469 22px,#424181 44px,#414986 72px,#39588a 96px,#23798a 120px,#23798a 122px)"></div><div style="background:linear-gradient(90deg,#296f8a 0px,#3c558a 2px,#44377a 8px,#472369 12px,#472368 18px,#424182 42px,#404d88 76px,#33618a 98px,#217e89 118px,#208088 124px)"></div><div style="background:linear-gradient(90deg,#26748a 0px,#3a578a 2px,#424182 6px,#47256a 10px,#472268 16px,#434081 38px,#3e528a 78px,#30658a 94px,#208088 114px,#1e8686 126px)"></div><div style="background:linear-gradient(90deg,#2e688a 0px,#3e518a 2px,#453275 8px,#472469 10px,#46296d 18px,#434081 34px,#3b558a 76px,#2f668a 90px,#217d89 104px,#1b8c85 124px,#1b8d85 128px)"></div><div style="background:linear-gradient(90deg,#345f8a 0px,#414986 4px,#44377a 6px,#46266b 10px,#462e72 18px,#424282 32px,#3a568a 72px,#296f8a 90px,#1e8587 104px,#1b9382 128px,#1b9482 130px)"></div><div style="background:linear-gradient(90deg,#375b8a 0px,#414886 4px,#462c70 8px,#462b6f 12px,#424383 30px,#3a578a 66px,#227b89 90px,#1a9183 108px,#1e9a7f 132px)"></div><div style="background:linear-gradient(90deg,#39588a 0px,#443b7d 6px,#462e71 10px,#414685 28px,#39588a 60px,#1e8686 92px,#1c9681 106px,#21a17b 134px)"></div><div style="background:linear-gradient(90deg,#3b558a 0px,#453477 6px,#453275 10px,#414684 24px,#385a8a 56px,#1f8287 82px,#1c9581 96px,#22a379 122px,#24a677 136px)"></div><div style="background:linear-gradient(90deg,#3c548a 0px,#424383 4px,#453477 6px,#433d80 12px,#404d88 26px,#30658a 58px,#217f88 72px,#1b9482 88px,#23a578 106px,#29ab74 138px)"></div><div style="background:linear-gradient(90deg,#3c548a 0px,#3f4f89 4px,#433e80 6px,#424282 10px,#404a87 14px,#375a8a 40px,#1e8686 70px,#1d9780 82px,#26a876 100px,#30b16f 140px,#32b16e 140px)"></div><div style="background:linear-gradient(90deg,#3d538a 0px,#3f508a 6px,#3c538a 14px,#3f4f8a 18px,#3b568a 22px,#345f8a 38px,#227c89 52px,#1b9482 70px,#29ac73 98px,#30b16f 120px,#40b469 134px,#50b764 142px)"></div><div style="background:linear-gradient(90deg,#3d538a 0px,#365c8a 14px,#385a8a 18px,#25748a 40px,#1b9382 58px,#2db070 96px,#42b469 110px,#58b961 132px,#77c058 144px,#7cc157 144px)"></div><div style="background:linear-gradient(90deg,#3d528a 0px,#30658a 14px,#27728a 30px,#1b9482 50px,#22a479 62px,#2fb06f 86px,#52b763 102px,#78c158 130px,#8ac557 136px,#9dcc67 144px)"></div></div>
<div class="h" style="left:509px;top:35px;width:144px;height:143px;clip-path:polygon(0.60px 0.59px,0.60px 142.91px,143.20px 142.91px)"><div style="background:linear-gradient(90deg,#eff3f5 0px,#e6ebf2 6px)"></div><div style="background:linear-gradient(90deg,#eff3f5 0px,#e3e8f1 8px)"></div><div style="background:linear-gradient(90deg,#eff3f5 0px,#dfe5f0 10px)"></div><div style="background:linear-gradient(90deg,#eff3f5 0px,#dae2ee 12px)"></div><div style="background:linear-gradient(90deg,#eff3f5 0px,#d7e1ed 14px)"></div><div style="background:linear-gradient(90deg,#eff3f5 0px,#d5e0ec 16px)"></div><div style="background:linear-gradient(90deg,#eff3f5 0px,#d4dfec 16px,#d3dfeb 18px)"></div><div style="background:linear-gradient(90deg,#eff3f5 0px,#d4dfec 16px,#d1ddeb 20px)"></div><div style="background:linear-gradient(90deg,#eff3f5 0px,#d4dfec 16px,#cfdcea 22px)"></div><div style="background:linear-gradient(90deg,#eff3f5 0px,#d4dfec 16px,#ccdbe9 24px)"></div><div style="background:linear-gradient(90deg,#eff3f5 0px,#d4dfec 16px,#cad9e8 26px)"></div><div style="background:linear-gradient(90deg,#eff3f5 0px,#d3dfeb 16px,#c8d8e7 28px)"></div><div style="background:linear-gradient(90deg,#eff3f5 0px,#d3dfeb 16px,#c5d7e6 30px)"></div><div style="background:linear-gradient(90deg,#eff3f5 0px,#d3dfeb 16px,#c3d5e6 32px)"></div><div style="background:linear-gradient(90deg,#eff3f5 0px,#d2deeb 18px,#c1d4e5 34px)"></div><div style="background:linear-gradient(90deg,#eff3f5 0px,#d2deeb 18px,#c0d2e5 36px)"></div><div style="background:linear-gradient(90deg,#eff3f5 0px,#d1deeb 18px,#bed1e4 38px)"></div><div style="background:linear-gradient(90deg,#eff3f5 0px,#d1deeb 18px,#bccfe3 40px)"></div><div style="background:linear-gradient(90deg,#eff3f5 0px,#d0ddea 18px,#bccfe3 38px,#bacee3 42px)"></div><div style="background:linear-gradient(90deg,#eff3f5 0px,#cfddea 18px,#bbcee3 40px,#b8cce2 44px)"></div><div style="background:linear-gradient(90deg,#eff3f5 0px,#cfdcea 18px,#bbcee3 38px,#b5c9e1 46px)"></div><div style="background:linear-gradient(90deg,#eff3f5 0px,#cddbe9 20px,#b1c7e0 48px)"></div><div style="background:linear-gradient(90deg,#eff3f5 0px,#cddbe9 20px,#aec5df 50px)"></div><div style="background:linear-gradient(90deg,#eff3f5 0px,#cbdae9 20px,#abc2de 52px)"></div><div style="background:linear-gradient(90deg,#eff3f5 0px,#c9d9e8 22px,#a7bfdd 54px)"></div><div style="background:linear-gradient(90deg,#eff3f5 0px,#c7d8e7 22px,#a4bddc 56px)"></div><div style="background:linear-gradient(90deg,#eff3f5 0px,#c3d5e6 24px,#a0badb 58px)"></div><div style="background:linear-gradient(90deg,#eff3f5 0px,#c3d5e6 24px,#9cb7d9 60px)"></div><div style="background:linear-gradient(90deg,#eff3f5 0px,#c2d4e5 26px,#99b5d8 62px)"></div><div style="background:linear-gradient(90deg,#eff3f5 0px,#c0d3e5 26px,#96b1d6 64px)"></div><div style="background:linear-gradient(90deg,#eff3f5 0px,#c0d3e5 26px,#94acd3 66px)"></div><div style="background:linear-gradient(90deg,#eff3f5 0px,#c0d2e5 26px,#94acd3 64px,#92a7d0 68px)"></div><div style="background:linear-gradient(90deg,#eff3f5 0px,#c0d3e5 26px,#94acd3 64px,#8fa2cd 70px)"></div><div style="background:linear-gradient(90deg,#eff3f5 0px,#c0d3e5 26px,#94acd3 62px,#8e9dca 72px)"></div><div style="background:linear-gradient(90deg,#eff3f5 0px,#c0d2e5 26px,#94acd3 62px,#8d98c7 74px)"></div><div style="background:linear-gradient(90deg,#eff3f5 0px,#c0d2e5 26px,#94acd3 60px,#8d93c3 76px)"></div><div style="background:linear-gradient(90deg,#eff3f5 0px,#c0d2e5 26px,#94acd3 60px,#8c8ebf 78px)"></div><div style="background:linear-gradient(90deg,#eff3f5 0px,#bfd2e4 26px,#94acd3 58px,#8c8cbd 78px,#8b88bb 80px)"></div><div style="background:linear-gradient(90deg,#eff3f5 0px,#bfd2e4 26px,#94acd3 58px,#8c8cbe 76px,#8b82b7 82px)"></div><div style="background:linear-gradient(90deg,#eff3f5 0px,#bfd2e4 26px,#94acd3 56px,#8c8dbe 74px,#8a7db3 84px)"></div><div style="background:linear-gradient(90deg,#eff3f5 0px,#bfd2e4 26px,#94acd3 56px,#8c8ebf 72px,#8a76af 86px)"></div><div style="background:linear-gradient(90deg,#eff3f5 0px,#bfd2e4 26px,#94acd3 54px,#8c8fc0 70px,#8a6fac 88px)"></div><div style="background:linear-gradient(90deg,#eff3f5 0px,#bfd2e4 26px,#94add4 54px,#8c90c1 68px,#8a68a8 90px)"></div><div style="background:linear-gradient(90deg,#eff3f5 0px,#bfd2e4 26px,#94add4 52px,#8c8fc0 66px,#8a62a5 92px)"></div><div style="background:linear-gradient(90deg,#eff3f5 0px,#bfd2e4 26px,#95aed4 52px,#8c92c2 64px,#8a5ea3 92px,#895ca2 94px)"></div><div style="background:linear-gradient(90deg,#eff3f5 0px,#bfd2e4 26px,#95aed4 52px,#8c91c1 64px,#895da3 92px,#8958a0 96px)"></div><div style="background:linear-gradient(90deg,#eff3f5 0px,#bfd2e4 26px,#95add4 52px,#8c8ebf 66px,#88539e 98px)"></div><div style="background:linear-gradient(90deg,#eff3f5 0px,#bfd2e4 26px,#94acd3 52px,#8c8ebf 66px,#874e9c 100px)"></div><div style="background:linear-gradient(90deg,#eff3f5 0px,#bfd2e4 26px,#95aed5 50px,#8d93c3 62px,#8a5ea3 90px,#86489a 102px)"></div><div style="background:linear-gradient(90deg,#eff3f5 0px,#bfd2e4 26px,#9bb6d9 46px,#8d99c7 60px,#8a6ba9 82px,#854397 104px)"></div><div style="background:linear-gradient(90deg,#eff3f5 0px,#bfd2e4 26px,#9eb9da 44px,#8d9bc8 58px,#8a6aa9 82px,#843e95 106px)"></div><div style="background:linear-gradient(90deg,#eff3f5 0px,#bfd2e4 26px,#a3bcdb 42px,#8fa2cd 56px,#8a6dab 80px,#833891 108px)"></div><div style="background:linear-gradient(90deg,#eff3f5 0px,#bfd2e4 26px,#a3bcdb 42px,#8fa2cd 56px,#8a6aa9 82px,#81318c 110px)"></div><div style="background:linear-gradient(90deg,#eff3f5 0px,#c0d2e5 26px,#a5bedc 42px,#91a7d0 54px,#8a6aa9 82px,#81318c 108px,#802b87 112px)"></div><div style="background:linear-gradient(90deg,#eff3f5 0px,#c0d2e5 26px,#a7c0dd 40px,#92a7d0 54px,#8a67a7 82px,#81318c 108px,#7e2482 114px)"></div><div style="background:linear-gradient(90deg,#eff3f5 0px,#c0d3e5 26px,#aac1de 40px,#93aad2 52px,#8b83b7 70px,#833690 104px,#7d2480 114px,#7a237e 116px)"></div><div style="background:linear-gradient(90deg,#eff3f5 0px,#c0d3e5 26px,#acc3de 38px,#93aad2 52px,#8b85b8 68px,#833690 104px,#7c2480 112px,#77227a 118px)"></div><div style="background:linear-gradient(90deg,#eff3f5 0px,#c0d3e5 26px,#acc3de 38px,#93aad2 52px,#8b87ba 68px,#833690 102px,#7c2380 112px,#732176 120px)"></div><div style="background:linear-gradient(90deg,#eff3f5 0px,#c0d3e5 26px,#adc4de 38px,#93abd2 52px,#8b85b9 68px,#82348e 102px,#7c2380 110px,#6f2072 122px)"></div><div style="background:linear-gradient(90deg,#eff3f5 0px,#c0d3e5 26px,#adc4df 38px,#94abd3 52px,#8b88bb 68px,#833790 100px,#7d2481 108px,#6b1e6d 124px)"></div><div style="background:linear-gradient(90deg,#eff3f5 0px,#c0d2e5 26px,#aec4df 38px,#93a9d2 54px,#8a7bb2 74px,#81328c 102px,#7d2481 108px,#671d68 124px,#601a61 126px)"></div><div style="background:linear-gradient(90deg,#eff3f5 0px,#c0d3e5 26px,#aec5df 38px,#93aad2 54px,#8b84b8 70px,#833690 100px,#7c2380 108px,#671d69 122px,#581757 128px)"></div><div style="background:linear-gradient(90deg,#eff3f5 0px,#c0d3e5 26px,#adc4df 40px,#93abd2 54px,#8b87ba 68px,#833690 100px,#7c2380 108px,#671d68 122px,#581757 128px,#581757 130px)"></div><div style="background:linear-gradient(90deg,#eff3f5 0px,#c1d4e5 26px,#b0c6df 38px,#94abd3 54px,#8c8abc 68px,#833690 100px,#7c2380 108px,#661c67 122px,#581757 128px,#581757 132px)"></div><div style="background:linear-gradient(90deg,#eff3f5 0px,#c1d4e5 26px,#b0c6e0 38px,#94acd3 54px,#8c8dbe 66px,#833690 100px,#7d2481 106px,#651c67 122px,#581757 128px,#581757 134px)"></div><div style="background:linear-gradient(90deg,#eff3f5 0px,#c2d4e5 26px,#b1c7e0 38px,#93aad2 54px,#8b86ba 70px,#833690 100px,#7d2481 106px,#681d6a 122px,#581757 126px,#581757 136px)"></div><div style="background:linear-gradient(90deg,#eff3f5 0px,#c3d5e6 24px,#b2c7e0 38px,#94abd3 54px,#8c8abc 68px,#833790 100px,#7d2481 106px,#671d69 122px,#581757 126px,#581757 138px)"></div><div style="background:linear-gradient(90deg,#eff3f5 0px,#c3d5e6 24px,#b0c6e0 40px,#93aad2 56px,#8b87ba 70px,#833790 100px,#7d2481 106px,#661d68 122px,#581757 126px,#581757 140px)"></div><div style="background:linear-gradient(90deg,#eff3f5 0px,#c3d5e6 24px,#b1c7e0 40px,#94abd3 56px,#8c8bbd 70px,#843c94 98px,#7c2380 108px,#671d69 122px,#581757 126px,#581757 142px)"></div><div style="background:linear-gradient(90deg,#eff3f5 0px,#c5d6e6 24px,#b2c7e0 40px,#93aad2 56px,#8b83b7 74px,#82348e 102px,#7d2481 108px,#681d6a 122px,#581757 126px,#581757 144px)"></div><div style="background:linear-gradient(90deg,#eff3f5 0px,#c5d6e6 24px,#b0c6e0 40px,#94acd3 56px,#8c8cbd 70px,#8a66a7 84px,#81328c 102px,#7c2380 108px,#651c66 122px,#581757 126px,#581757 144px)"></div><div style="background:linear-gradient(90deg,#eff3f5 0px,#c5d7e6 24px,#b1c7e0 40px,#93aad2 58px,#8b82b6 76px,#833690 102px,#7c2380 108px,#661c67 122px,#581757 126px,#581757 144px)"></div></div>
<div class="h" style="left:508px;top:237px;width:145px;height:144px;clip-path:polygon(0.83px 0.80px,0.83px 143.40px,144.17px 143.40px)"><div style="background:linear-gradient(90deg,#eff3f5 0px,#e9eef3 6px)"></div><div style="background:linear-gradient(90deg,#eff3f5 0px,#e6ebf2 8px)"></div><div style="background:linear-gradient(90deg,#eff3f5 0px,#e2e8f1 10px)"></div><div style="background:linear-gradient(90deg,#eff3f5 0px,#e0e6f0 12px)"></div><div style="background:linear-gradient(90deg,#eff3f5 0px,#dee5ef 14px)"></div><div style="background:linear-gradient(90deg,#eff3f5 0px,#dce4ef 16px)"></div><div style="background:linear-gradient(90deg,#eff3f5 0px,#dae3ee 18px)"></div><div style="background:linear-gradient(90deg,#eff3f5 0px,#d9e2ee 18px,#d8e2ed 20px)"></div><div style="background:linear-gradient(90deg,#eff3f5 0px,#d9e2ee 18px,#d6e0ed 22px)"></div><div style="background:linear-gradient(90deg,#eff3f5 0px,#d8e1ed 20px,#d4dfec 24px)"></div><div style="background:linear-gradient(90deg,#eff3f5 0px,#d6e0ed 20px,#d1deeb 26px)"></div><div style="background:linear-gradient(90deg,#eff3f5 0px,#d5e0ec 22px,#cedcea 28px)"></div><div style="background:linear-gradient(90deg,#eff3f5 0px,#d3dfeb 22px,#cbdae9 30px)"></div><div style="background:linear-gradient(90deg,#eff3f5 0px,#d1ddeb 24px,#c7d8e7 32px)"></div><div style="background:linear-gradient(90deg,#eff3f5 0px,#ccdbe9 26px,#c4d6e6 34px)"></div><div style="background:linear-gradient(90deg,#eff3f5 0px,#c6d7e7 30px,#c1d4e5 36px)"></div><div style="background:linear-gradient(90deg,#eff3f5 0px,#c3d5e6 32px,#bfd2e4 38px)"></div><div style="background:linear-gradient(90deg,#eff3f5 0px,#c1d4e5 34px,#bdd0e4 40px)"></div><div style="background:linear-gradient(90deg,#eff3f5 0px,#c1d4e5 32px,#bacee3 42px)"></div><div style="background:linear-gradient(90deg,#eff3f5 0px,#c2d4e5 30px,#b8cce2 44px)"></div><div style="background:linear-gradient(90deg,#eff3f5 0px,#c2d4e5 30px,#b5cae1 46px)"></div><div style="background:linear-gradient(90deg,#eff3f5 0px,#c2d4e5 30px,#b2c7e0 48px)"></div><div style="background:linear-gradient(90deg,#eff3f5 0px,#c1d4e5 30px,#aec5df 50px)"></div><div style="background:linear-gradient(90deg,#eff3f5 0px,#cfdcea 20px,#bed1e4 34px,#aac2de 52px)"></div><div style="background:linear-gradient(90deg,#eff3f5 0px,#d2deeb 18px,#c0d2e5 30px,#a7bfdd 54px)"></div><div style="background:linear-gradient(90deg,#eff3f5 0px,#d4dfec 16px,#c1d3e5 28px,#a3bcdb 56px)"></div><div style="background:linear-gradient(90deg,#eff3f5 0px,#d6e0ec 16px,#c2d4e5 26px,#a6bfdc 52px,#9eb9da 58px)"></div><div style="background:linear-gradient(90deg,#eff3f5 0px,#d8e1ed 14px,#c3d5e6 26px,#a8c0dd 50px,#9ab6d9 60px)"></div><div style="background:linear-gradient(90deg,#eff3f5 0px,#d7e1ed 14px,#c2d5e5 26px,#a5bedc 50px,#97b2d7 62px)"></div><div style="background:linear-gradient(90deg,#eff3f5 0px,#d7e1ed 14px,#c2d4e5 26px,#a6bfdc 48px,#95aed4 64px)"></div><div style="background:linear-gradient(90deg,#eff3f5 0px,#d7e1ed 14px,#c3d5e6 24px,#a8c0dd 46px,#94acd3 64px,#93a9d2 66px)"></div><div style="background:linear-gradient(90deg,#eff3f5 0px,#dae2ee 14px,#c2d5e5 24px,#a6bfdc 46px,#94acd3 62px,#90a5cf 68px)"></div><div style="background:linear-gradient(90deg,#eff3f5 0px,#d9e2ee 14px,#c2d4e5 24px,#a6bfdc 46px,#94add4 60px,#8ea0cc 70px)"></div><div style="background:linear-gradient(90deg,#eff3f5 0px,#d9e2ee 14px,#c2d4e5 24px,#a5bedc 46px,#94acd3 60px,#8e9cc9 72px)"></div><div style="background:linear-gradient(90deg,#eff3f5 0px,#d9e2ee 14px,#c2d4e5 24px,#a5bedc 44px,#95add4 58px,#8d98c6 74px)"></div><div style="background:linear-gradient(90deg,#eff3f5 0px,#d9e2ee 14px,#c1d4e5 24px,#a4bddc 44px,#94acd3 58px,#8d94c3 76px)"></div><div style="background:linear-gradient(90deg,#eff3f5 0px,#d9e2ee 14px,#c1d4e5 24px,#a3bcdc 44px,#93aad2 58px,#8c90c1 78px)"></div><div style="background:linear-gradient(90deg,#eff3f5 0px,#d9e2ee 14px,#c1d4e5 24px,#a5bddc 44px,#94acd3 56px,#8c8dbf 78px,#8c8cbe 80px)"></div><div style="background:linear-gradient(90deg,#eff3f5 0px,#d9e2ee 14px,#c1d4e5 24px,#a4bddc 44px,#94acd3 56px,#8c8cbe 78px,#8b88bb 82px)"></div><div style="background:linear-gradient(90deg,#eff3f5 0px,#dae2ee 14px,#c0d3e5 26px,#a0badb 46px,#8ea0cc 64px,#8b83b7 84px)"></div><div style="background:linear-gradient(90deg,#eff3f5 0px,#d7e1ed 14px,#c0d3e5 26px,#a0bada 46px,#8e9fcb 64px,#8a7fb4 86px)"></div><div style="background:linear-gradient(90deg,#eff3f5 0px,#d7e1ed 14px,#c0d3e5 26px,#a1bbdb 44px,#8fa2cd 60px,#8a79b0 88px)"></div><div style="background:linear-gradient(90deg,#eff3f5 0px,#d7e1ed 14px,#c0d3e5 26px,#a1bbdb 44px,#8fa1cd 60px,#8a73ad 90px)"></div><div style="background:linear-gradient(90deg,#eff3f5 0px,#d7e1ed 14px,#bfd2e4 26px,#94add4 54px,#8c90c1 70px,#8a6daa 92px)"></div><div style="background:linear-gradient(90deg,#eff3f5 0px,#d8e1ed 14px,#bfd2e4 26px,#94add4 54px,#8c8fbf 70px,#8a67a8 94px)"></div><div style="background:linear-gradient(90deg,#eff3f5 0px,#d5e0ec 16px,#bed1e4 28px,#94acd3 54px,#8c8dbe 70px,#8a62a5 96px)"></div><div style="background:linear-gradient(90deg,#eff3f5 0px,#d5e0ec 16px,#bed1e4 28px,#93aad2 54px,#8b82b6 76px,#895da2 98px)"></div><div style="background:linear-gradient(90deg,#eff3f5 0px,#d6e0ec 16px,#bfd2e4 28px,#94abd3 54px,#8b89bc 70px,#8a61a4 94px,#8958a0 100px)"></div><div style="background:linear-gradient(90deg,#eff3f5 0px,#d6e0ec 16px,#bfd2e4 28px,#94abd3 54px,#8c8bbd 70px,#8a65a6 90px,#88549f 102px)"></div><div style="background:linear-gradient(90deg,#eff3f5 0px,#d4dfec 16px,#bed1e4 28px,#94abd3 54px,#8c8abc 70px,#8a64a6 90px,#87509d 104px)"></div><div style="background:linear-gradient(90deg,#eff3f5 0px,#d4dfec 16px,#bed1e4 28px,#94abd3 54px,#8c8cbe 68px,#8a65a6 90px,#874c9b 106px)"></div><div style="background:linear-gradient(90deg,#eff3f5 0px,#d2deeb 18px,#bbcfe3 30px,#94abd3 54px,#8c8cbd 68px,#8a64a6 90px,#864799 108px)"></div><div style="background:linear-gradient(90deg,#eff3f5 0px,#d2deeb 18px,#bccfe3 30px,#94acd3 54px,#8c8dbf 68px,#8a66a7 88px,#854397 110px)"></div><div style="background:linear-gradient(90deg,#eff3f5 0px,#d0ddea 18px,#b9cde2 32px,#94acd3 54px,#8c8dbe 68px,#8a65a7 88px,#843e95 112px)"></div><div style="background:linear-gradient(90deg,#eff3f5 0px,#cfdcea 20px,#98b3d7 50px,#8d96c4 64px,#8a6aa9 84px,#833992 114px)"></div><div style="background:linear-gradient(90deg,#eff3f5 0px,#cbdae9 22px,#9bb7d9 48px,#8d98c6 62px,#8a6aa9 84px,#82338d 116px)"></div><div style="background:linear-gradient(90deg,#eff3f5 0px,#c9d9e8 22px,#a0bada 46px,#8d9ac8 62px,#8a69a9 84px,#81318c 116px,#802d89 118px)"></div><div style="background:linear-gradient(90deg,#eff3f5 0px,#c8d8e7 24px,#a4bddc 44px,#90a3ce 58px,#8a69a8 84px,#81318c 114px,#7f2784 120px)"></div><div style="background:linear-gradient(90deg,#eff3f5 0px,#c8d8e7 24px,#a2bcdb 46px,#8e9fcb 60px,#8a66a7 86px,#81318c 114px,#7c2380 122px)"></div><div style="background:linear-gradient(90deg,#eff3f5 0px,#c6d7e7 24px,#a5bddc 44px,#90a4ce 58px,#8a66a7 86px,#81318b 112px,#7c2380 120px,#79237d 124px)"></div><div style="background:linear-gradient(90deg,#eff3f5 0px,#a5bedc 44px,#90a4cf 58px,#8a63a6 86px,#82338d 110px,#7d2480 118px,#762179 126px)"></div><div style="background:linear-gradient(90deg,#eff3f5 0px,#a7c0dd 44px,#91a7d0 56px,#8a60a4 88px,#82328d 110px,#7c2380 118px,#722075 128px)"></div><div style="background:linear-gradient(90deg,#eff3f5 0px,#a8c0dd 44px,#92a8d1 56px,#8a65a7 86px,#82328d 110px,#7c2380 118px,#702072 130px)"></div><div style="background:linear-gradient(90deg,#eff3f5 0px,#a7bfdd 44px,#91a6d0 58px,#8a5fa4 88px,#82328d 110px,#7c2380 118px,#6d1f6f 132px)"></div><div style="background:linear-gradient(90deg,#eff3f5 0px,#a7bfdd 44px,#92a7d0 58px,#8a5ea3 90px,#82328d 110px,#7d2481 116px,#6b1e6d 134px)"></div><div style="background:linear-gradient(90deg,#eff3f5 0px,#a8c0dd 44px,#92a8d1 58px,#8a68a8 86px,#81328c 110px,#7d2481 116px,#671d69 134px,#651c66 136px)"></div><div style="background:linear-gradient(90deg,#eff3f5 0px,#a8c0dd 44px,#92a9d1 58px,#8a77b0 80px,#81328c 110px,#7c2480 116px,#661d68 134px,#5e195e 138px)"></div><div style="background:linear-gradient(90deg,#eff3f5 0px,#a7bfdd 46px,#92a7d0 58px,#8959a1 92px,#81328c 110px,#7c2380 116px,#681d6a 134px,#581757 140px)"></div><div style="background:linear-gradient(90deg,#eff3f5 0px,#a7c0dd 46px,#92a8d1 58px,#8a6aa9 86px,#81328c 110px,#7c2380 116px,#671d68 134px,#581757 140px,#581757 142px)"></div><div style="background:linear-gradient(90deg,#eff3f5 0px,#a6bfdc 46px,#91a6d0 60px,#88569f 94px,#81308b 110px,#7b237f 118px,#681d69 134px,#581757 140px,#581757 144px)"></div><div style="background:linear-gradient(90deg,#eff3f5 0px,#a7bfdd 46px,#92a7d0 60px,#88549f 96px,#812f8a 112px,#7c2380 118px,#661d68 134px,#581757 140px,#581757 146px)"></div><div style="background:linear-gradient(90deg,#eff3f5 0px,#a7bfdd 46px,#92a8d1 60px,#8a6dab 86px,#82328d 110px,#7c2480 118px,#671d69 134px,#581757 140px,#581757 146px)"></div></div>
<svg width="685" height="416" viewBox="0 0 685 416">
<defs><linearGradient id="cbA" x1="0" y1="0" x2="0" y2="1"><stop offset="0.000" stop-color="#2c3e78"/><stop offset="0.050" stop-color="#264890"/><stop offset="0.130" stop-color="#1f5a9f"/><stop offset="0.250" stop-color="#2573b3"/><stop offset="0.350" stop-color="#3f88c2"/><stop offset="0.450" stop-color="#5e9fcf"/><stop offset="0.550" stop-color="#80b4d8"/><stop offset="0.660" stop-color="#a6cae0"/><stop offset="0.840" stop-color="#d8e5ef"/><stop offset="1.000" stop-color="#f6f8fb"/></linearGradient>
<linearGradient id="cbB" x1="0" y1="0" x2="0" y2="1"><stop offset="0.000" stop-color="#2c3e78"/><stop offset="0.050" stop-color="#264890"/><stop offset="0.130" stop-color="#1f5a9f"/><stop offset="0.250" stop-color="#2573b3"/><stop offset="0.350" stop-color="#3f88c2"/><stop offset="0.450" stop-color="#5e9fcf"/><stop offset="0.550" stop-color="#80b4d8"/><stop offset="0.660" stop-color="#a6cae0"/><stop offset="0.840" stop-color="#d8e5ef"/><stop offset="1.000" stop-color="#f6f8fb"/></linearGradient>
<linearGradient id="cbC" x1="0" y1="0" x2="0" y2="1"><stop offset="0.000" stop-color="#3c1a50"/><stop offset="0.030" stop-color="#471e64"/><stop offset="0.080" stop-color="#462c70"/><stop offset="0.150" stop-color="#433e80"/><stop offset="0.210" stop-color="#3f508a"/><stop offset="0.270" stop-color="#345f8a"/><stop offset="0.340" stop-color="#23788a"/><stop offset="0.420" stop-color="#1a9084"/><stop offset="0.500" stop-color="#22a479"/><stop offset="0.580" stop-color="#2db070"/><stop offset="0.640" stop-color="#55b862"/><stop offset="0.700" stop-color="#86c454"/><stop offset="0.760" stop-color="#a8d070"/><stop offset="0.820" stop-color="#c4dc98"/><stop offset="0.900" stop-color="#dde9c6"/><stop offset="0.960" stop-color="#f2f6ea"/><stop offset="1.000" stop-color="#ffffff"/></linearGradient>
<linearGradient id="cbD" x1="0" y1="0" x2="0" y2="1"><stop offset="0.000" stop-color="#3c1a50"/><stop offset="0.030" stop-color="#471e64"/><stop offset="0.080" stop-color="#462c70"/><stop offset="0.150" stop-color="#433e80"/><stop offset="0.210" stop-color="#3f508a"/><stop offset="0.270" stop-color="#345f8a"/><stop offset="0.340" stop-color="#23788a"/><stop offset="0.420" stop-color="#1a9084"/><stop offset="0.500" stop-color="#22a479"/><stop offset="0.580" stop-color="#2db070"/><stop offset="0.640" stop-color="#55b862"/><stop offset="0.700" stop-color="#86c454"/><stop offset="0.760" stop-color="#a8d070"/><stop offset="0.820" stop-color="#c4dc98"/><stop offset="0.900" stop-color="#dde9c6"/><stop offset="0.960" stop-color="#f2f6ea"/><stop offset="1.000" stop-color="#ffffff"/></linearGradient>
<linearGradient id="cbE" x1="0" y1="0" x2="0" y2="1"><stop offset="0.000" stop-color="#4a1248"/><stop offset="0.070" stop-color="#6a1e6c"/><stop offset="0.180" stop-color="#7e2482"/><stop offset="0.240" stop-color="#843c94"/><stop offset="0.340" stop-color="#8a60a4"/><stop offset="0.410" stop-color="#8a7cb2"/><stop offset="0.530" stop-color="#8ea0cc"/><stop offset="0.590" stop-color="#98b4d8"/><stop offset="0.710" stop-color="#b8cce2"/><stop offset="0.780" stop-color="#c4d6e6"/><stop offset="0.870" stop-color="#e0e6f0"/><stop offset="0.934" stop-color="#eef2f4"/><stop offset="1.000" stop-color="#f8fafb"/></linearGradient>
<linearGradient id="cbF" x1="0" y1="0" x2="0" y2="1"><stop offset="0.000" stop-color="#4a1248"/><stop offset="0.070" stop-color="#6a1e6c"/><stop offset="0.180" stop-color="#7e2482"/><stop offset="0.240" stop-color="#843c94"/><stop offset="0.340" stop-color="#8a60a4"/><stop offset="0.410" stop-color="#8a7cb2"/><stop offset="0.530" stop-color="#8ea0cc"/><stop offset="0.590" stop-color="#98b4d8"/><stop offset="0.710" stop-color="#b8cce2"/><stop offset="0.780" stop-color="#c4d6e6"/><stop offset="0.870" stop-color="#e0e6f0"/><stop offset="0.934" stop-color="#eef2f4"/><stop offset="1.000" stop-color="#f8fafb"/></linearGradient></defs>
<path d="M110.5 90.8C108.5 91.6 102.1 93.6 98.5 95.6C94.9 97.6 91.6 99.8 88.8 102.8C86.0 105.8 83.6 109.5 81.6 113.7C79.6 117.9 78.2 123.3 76.8 128.1C75.4 132.9 74.0 137.7 73.2 142.5C72.4 147.3 71.9 153.4 72.0 156.9C72.1 160.4 72.7 161.8 73.9 163.6C75.1 165.4 76.3 166.8 79.2 167.6C82.1 168.4 86.2 168.2 91.3 168.4C96.4 168.6 100.2 168.6 110.0 168.5C119.8 168.4 136.9 167.9 150.0 167.6C163.1 167.3 182.1 166.9 188.5 166.8" fill="none" stroke="#fff" stroke-width="0.85" stroke-opacity="0.9"/>
<path d="M129.7 107.6C128.1 107.8 123.1 107.6 120.1 108.8C117.1 110.0 114.0 112.3 111.7 114.9C109.4 117.5 107.6 121.1 106.4 124.5C105.2 127.9 104.6 131.9 104.5 135.3C104.4 138.7 104.5 142.3 105.7 144.9C106.9 147.5 108.9 149.5 111.7 150.9C114.5 152.3 117.8 152.5 122.5 153.3C127.2 154.1 133.8 155.1 140.0 155.7C146.2 156.2 153.6 156.3 160.0 156.6C166.4 156.9 175.4 157.2 178.5 157.3" fill="none" stroke="#fff" stroke-width="0.85" stroke-opacity="0.9"/>
<path d="M142.7 121.7C141.9 122.2 139.4 123.2 138.0 124.5C136.6 125.8 135.1 127.9 134.5 129.3C133.9 130.7 133.8 131.6 134.2 133.0C134.6 134.4 135.9 136.5 136.9 137.7C137.9 138.9 137.8 139.1 140.0 140.1C142.2 141.1 146.7 142.6 150.0 143.5C153.3 144.4 156.9 144.9 160.0 145.5C163.1 146.1 167.1 146.6 168.5 146.8" fill="none" stroke="#fff" stroke-width="0.85" stroke-opacity="0.9"/>
<path d="M60.6 37.2L185.4 166.2" fill="none" stroke="#f7941e" stroke-width="2.2" stroke-linecap="butt"/>
<path d="M66.6 176.3L101.2 167.6" fill="none" stroke="#f7941e" stroke-width="2.3" stroke-linecap="butt"/>
<path d="M99.1 168.3L185.5 166.4" fill="none" stroke="#f7941e" stroke-width="1.7" stroke-linecap="butt" stroke-dasharray="3.3 3.4" stroke-opacity="0.85"/>
<rect x="155.8" y="133.4" width="7" height="7" fill="#f9a031"/>
<path d="M141.9 324.5C137.6 324.6 124.0 324.3 116.3 325.0C108.6 325.7 102.0 326.5 95.9 328.6C89.8 330.7 83.9 334.1 79.5 337.8C75.1 341.6 71.5 346.5 69.3 351.1C67.1 355.7 66.4 361.6 66.2 365.4C66.0 369.1 66.4 372.0 68.3 373.6C70.2 375.2 69.5 375.6 77.5 375.2C85.5 374.8 104.2 372.8 116.3 371.5C128.4 370.2 140.2 368.9 150.0 367.5C159.8 366.1 169.8 364.2 175.0 363.4C180.2 362.6 180.4 362.7 181.5 362.6" fill="none" stroke="#fff" stroke-width="0.85" stroke-opacity="0.9"/>
<path d="M161.3 348.8C162.3 345.9 150.4 343.6 142.9 341.9C135.4 340.2 124.1 338.7 116.3 338.4C108.5 338.1 101.4 338.5 95.9 339.9C90.5 341.3 86.3 344.1 83.6 347.0C80.9 349.9 79.8 354.6 79.5 357.2C79.2 359.8 77.2 361.1 81.6 362.3C86.0 363.5 96.9 364.9 106.1 364.4C115.3 363.9 127.6 361.9 136.8 359.3C146.0 356.7 160.3 351.7 161.3 348.8Z" fill="none" stroke="#fff" stroke-width="0.85" stroke-opacity="0.9"/>
<path d="M90.8 355.6L104.1 349.1L128.6 347.4L131 349L124.5 353.6L108.1 359.3L95.9 358.3Z" fill="none" stroke="#fff" stroke-width="0.85" stroke-opacity="0.9" stroke-linejoin="round"/>
<path d="M58.6 242.0C60.4 243.6 65.7 248.4 69.4 251.7C73.1 255.0 77.4 258.6 81.0 261.8C84.6 265.0 88.0 267.9 91.1 270.9C94.2 273.9 97.0 277.0 99.7 279.8C102.4 282.6 104.6 284.9 107.0 287.8C109.4 290.7 111.9 294.0 114.2 297.3C116.5 300.6 119.2 304.4 121.0 307.9C122.8 311.4 124.0 315.4 124.8 318.5C125.6 321.6 125.6 323.3 125.6 326.2C125.6 329.1 125.4 332.9 124.8 335.8C124.2 338.7 123.1 341.1 121.9 343.5C120.7 345.9 119.3 348.1 117.5 350.0C115.7 351.9 113.0 353.7 111.0 355.0C109.0 356.3 108.2 356.3 105.7 357.6C103.2 358.9 99.3 361.2 96.0 363.0C92.7 364.8 89.4 366.6 85.7 368.5C82.0 370.4 77.8 372.6 74.0 374.5C70.2 376.4 65.0 379.2 63.2 380.1" fill="none" stroke="#f7941e" stroke-width="2.3" stroke-linecap="butt"/>
<circle cx="105.7" cy="356.8" r="3.9" fill="#f9a031"/>
<path d="M306.5 61.1C305.6 61.8 302.4 63.2 300.8 65.1C299.2 67.0 298.1 69.2 297.2 72.3C296.3 75.4 296.2 80.1 295.7 83.9C295.2 87.8 294.9 90.6 294.3 95.4C293.7 100.2 292.6 108.5 292.1 112.7C291.6 116.9 291.9 115.7 291.2 120.4C290.5 125.1 289.2 134.0 288.2 140.8C287.2 147.6 285.7 156.3 285.1 161.2C284.5 166.1 284.7 168.3 284.8 170.4C284.9 172.5 285.6 173.1 285.8 173.6" fill="none" stroke="#fff" stroke-width="0.85" stroke-opacity="0.9"/>
<path d="M285.8 173.6C287.3 173.2 291.8 172.1 295.0 171.3C298.2 170.5 300.8 169.8 305.0 168.8C309.2 167.9 315.7 166.7 320.0 165.6C324.3 164.5 325.1 163.1 331.0 162.2C336.9 161.3 347.1 160.8 355.3 160.3C363.5 159.8 371.8 159.3 380.0 159.0C388.2 158.7 400.4 158.4 404.5 158.3" fill="none" stroke="#fff" stroke-width="0.85" stroke-opacity="0.9"/>
<path d="M322.1 80.3C320.8 81.6 316.1 85.2 314.5 88.2C312.9 91.2 313.2 94.2 312.7 98.3C312.2 102.4 311.6 108.3 311.3 112.7C311.0 117.1 309.9 121.2 310.6 124.5C311.3 127.8 314.0 130.5 315.7 132.7C317.4 134.9 319.2 136.8 320.8 137.8C322.4 138.8 321.1 138.1 325.0 138.5C328.9 138.9 337.8 139.9 344.2 140.4C350.6 140.9 356.1 141.0 363.5 141.3C370.9 141.6 384.3 142.1 388.5 142.3" fill="none" stroke="#fff" stroke-width="0.85" stroke-opacity="0.9"/>
<path d="M335.5 86.8C335.2 87.1 335.0 87.3 333.7 88.5C332.4 89.7 329.2 91.7 327.9 94.2C326.6 96.8 326.2 100.6 326.0 103.8C325.8 107.0 325.1 110.1 326.9 113.5C328.6 116.9 332.0 121.3 336.5 124.0C341.0 126.7 348.4 128.4 353.8 129.8C359.2 131.2 364.9 131.6 369.2 132.3C373.5 133.0 377.8 133.6 379.5 133.9" fill="none" stroke="#fff" stroke-width="0.85" stroke-opacity="0.9"/>
<path d="M284.2 36.9C286.8 39.4 294.9 47.0 300.0 51.9C305.1 56.8 310.8 61.9 315.0 66.2C319.2 70.5 320.8 72.7 325.0 77.6C329.2 82.5 334.9 89.5 340.0 95.6C345.1 101.7 350.8 108.2 355.8 114.2C360.8 120.2 365.5 125.8 370.0 131.6C374.5 137.4 380.8 146.1 382.9 149.0" fill="none" stroke="#f7941e" stroke-width="2.3" stroke-linecap="butt"/>
<path d="M286.3 176.6C287.9 174.8 292.8 169.0 296.0 165.8C299.2 162.6 302.2 159.8 305.5 157.2C308.8 154.6 313.8 151.2 315.5 150.0" fill="none" stroke="#f7941e" stroke-width="2.3" stroke-linecap="butt"/>
<path d="M316.4 150.7L383.6 149.1" fill="none" stroke="#f7941e" stroke-width="1.7" stroke-linecap="butt" stroke-dasharray="3.5 3.0" stroke-opacity="0.85"/>
<rect x="352.3" y="110.6" width="7.2" height="7.2" fill="#f9a031"/>
<path d="M313.7 272.1C312.7 272.2 309.7 271.8 307.9 272.5C306.1 273.2 304.7 273.9 303.1 276.3C301.5 278.7 299.6 283.5 298.3 286.9C297.0 290.3 296.3 292.3 295.4 296.5C294.5 300.7 293.9 306.8 293.0 312.3C292.1 317.8 290.8 323.5 289.7 329.6C288.6 335.7 287.3 343.0 286.5 349.1C285.7 355.2 284.9 362.2 284.8 366.4C284.7 370.5 285.4 372.4 286.0 374.0C286.6 375.6 285.3 375.9 288.6 376.1C291.9 376.3 298.4 376.3 306.0 375.0C313.6 373.7 325.1 370.8 334.1 368.5C343.1 366.2 352.3 363.6 360.0 361.0C367.7 358.4 375.4 355.6 380.5 353.2C385.6 350.8 388.9 347.9 390.6 346.9" fill="none" stroke="#fff" stroke-width="0.85" stroke-opacity="0.9"/>
<path d="M316.8 305.4C319.5 304.5 319.2 304.3 323.2 304.7C327.1 305.1 336.2 306.2 340.5 308.0C344.8 309.8 347.2 312.8 349.2 315.5C351.2 318.2 352.6 320.2 352.4 324.2C352.1 328.2 350.8 335.5 347.7 339.3C344.6 343.1 338.9 343.8 334.1 346.9C329.3 350.0 324.3 354.1 318.9 357.7C313.5 361.3 306.3 365.8 301.6 368.5C296.9 371.2 293.1 373.2 290.8 373.9C288.5 374.6 287.8 375.1 287.6 372.8C287.4 370.5 288.8 364.6 289.7 359.9C290.6 355.2 291.4 350.8 293.0 344.7C294.6 338.6 297.2 328.9 299.5 323.1C301.8 317.3 304.1 313.1 307.0 310.1C309.9 307.2 314.1 306.3 316.8 305.4Z" fill="none" stroke="#fff" stroke-width="0.85" stroke-opacity="0.9"/>
<path d="M312.4 325.3C314.8 325.9 319.8 328.7 322.2 330.7C324.6 332.7 326.0 335.0 326.5 337.2C327.0 339.4 326.7 341.3 325.4 343.6C324.1 345.9 322.1 348.5 318.9 351.2C315.6 353.9 309.9 357.4 305.9 359.9C301.9 362.4 297.6 365.7 295.1 366.4C292.6 367.1 291.2 366.0 290.8 364.2C290.4 362.4 291.7 358.8 293.0 355.5C294.3 352.2 297.0 347.9 298.4 344.7C299.8 341.5 300.0 339.0 301.6 336.1C303.2 333.2 306.3 329.2 308.1 327.4C309.9 325.6 310.0 324.8 312.4 325.3Z" fill="none" stroke="#fff" stroke-width="0.85" stroke-opacity="0.9"/>
<path d="M282.9 241.2C284.3 242.3 288.4 245.1 291.5 247.6C294.6 250.1 298.3 253.4 301.2 256.3C304.1 259.2 306.6 262.2 308.8 264.9C311.0 267.6 313.0 270.0 314.6 272.6C316.2 275.2 317.4 277.4 318.5 280.3C319.6 283.2 320.6 286.6 321.3 289.9C322.0 293.2 322.6 297.0 322.9 300.0C323.2 303.0 323.3 305.1 323.2 308.0C323.1 310.9 322.9 313.5 322.2 317.4C321.5 321.2 320.1 327.3 318.8 331.1C317.5 334.9 315.8 337.4 314.5 340.0C313.2 342.6 312.3 344.4 311.0 347.0C309.7 349.6 307.9 353.0 306.5 355.5C305.1 358.0 304.1 359.7 302.5 362.0C300.9 364.3 298.8 367.2 297.0 369.3C295.2 371.4 293.2 373.2 291.5 374.8C289.8 376.4 287.5 378.1 286.7 378.8" fill="none" stroke="#f7941e" stroke-width="2.3" stroke-linecap="butt"/>
<circle cx="300.7" cy="363.1" r="3.6" fill="#f9a031"/>
<path d="M549.0 78.8C548.1 80.6 545.2 85.5 543.8 89.7C542.4 93.9 541.3 98.4 540.6 103.8C539.9 109.2 539.9 119.1 539.7 122.2" fill="none" stroke="#fff" stroke-width="0.85" stroke-opacity="0.9"/>
<path d="M539.7 134.5C540.0 137.7 540.7 146.7 541.6 153.8C542.5 160.9 544.6 173.1 545.3 177.2C546.0 181.3 545.7 178.1 545.8 178.3" fill="none" stroke="#fff" stroke-width="0.85" stroke-opacity="0.9"/>
<path d="M585.9 117.8C585.2 118.6 583.0 119.6 581.9 122.5C580.8 125.4 579.7 132.9 579.2 135.0" fill="none" stroke="#fff" stroke-width="0.85" stroke-opacity="0.9"/>
<path d="M578.8 148.3C578.8 148.7 578.5 147.6 578.8 150.6C579.1 153.6 579.7 161.9 580.6 166.3C581.5 170.7 583.7 175.2 584.4 177.2C585.1 179.2 584.7 178.1 584.8 178.3" fill="none" stroke="#fff" stroke-width="0.85" stroke-opacity="0.9"/>
<path d="M623.4 152.2C622.9 153.0 620.9 155.9 620.3 156.9C619.7 157.9 619.9 158.1 619.8 158.3" fill="none" stroke="#fff" stroke-width="0.85" stroke-opacity="0.9"/>
<path d="M619.7 168.5C619.7 168.7 619.5 168.0 619.7 169.4C619.9 170.8 620.7 175.7 620.9 177.2C621.1 178.7 621.0 178.1 621.0 178.3" fill="none" stroke="#fff" stroke-width="0.85" stroke-opacity="0.9"/>
<text x="538.0" y="131.0" font-size="9.5" text-anchor="middle" fill="#fff">0.2</text>
<text x="577.5" y="145.0" font-size="9.5" text-anchor="middle" fill="#fff">0.4</text>
<text x="618.8" y="166.6" font-size="9.5" text-anchor="middle" fill="#fff">0.6</text>
<path d="M535.3 267.8C534.6 269.1 532.5 271.7 531.3 275.6C530.1 279.5 528.8 287.0 528.1 291.3C527.5 295.6 527.5 299.8 527.4 301.5" fill="none" stroke="#fff" stroke-width="0.85" stroke-opacity="0.9"/>
<path d="M527.2 312.2C527.2 312.4 526.9 308.8 527.2 313.1C527.5 317.4 528.1 330.3 528.8 338.1C529.5 345.9 530.6 353.2 531.3 360.0C532.0 366.8 532.5 375.1 532.8 378.8C533.1 382.5 533.0 381.5 533.0 382.0" fill="none" stroke="#fff" stroke-width="0.85" stroke-opacity="0.9"/>
<path d="M564.0 296.9C563.0 298.6 559.2 302.6 557.8 306.9C556.4 311.2 556.0 319.0 555.6 322.5C555.2 326.0 555.5 326.9 555.5 327.8" fill="none" stroke="#fff" stroke-width="0.85" stroke-opacity="0.9"/>
<path d="M556.1 338.8C556.1 339.2 556.0 337.8 556.3 341.3C556.6 344.8 557.0 353.8 557.8 360.0C558.6 366.2 560.3 375.1 560.9 378.8C561.5 382.5 561.2 381.5 561.2 382.0" fill="none" stroke="#fff" stroke-width="0.85" stroke-opacity="0.9"/>
<path d="M592.8 324.0C591.8 325.3 588.1 328.3 586.9 331.9C585.7 335.5 585.7 343.2 585.5 345.5" fill="none" stroke="#fff" stroke-width="0.85" stroke-opacity="0.9"/>
<path d="M585.1 356.6C585.1 356.8 584.9 357.1 585.0 358.0C585.1 358.9 584.8 358.5 585.5 362.0C586.2 365.5 588.4 375.5 589.0 378.8C589.6 382.1 589.2 381.5 589.3 382.0" fill="none" stroke="#fff" stroke-width="0.85" stroke-opacity="0.9"/>
<path d="M623.4 354.7C622.9 355.6 620.9 358.9 620.3 360.0C619.7 361.1 620.0 361.2 619.9 361.5" fill="none" stroke="#fff" stroke-width="0.85" stroke-opacity="0.9"/>
<path d="M619.7 372.5C619.7 372.8 619.5 372.7 619.7 374.0C619.9 375.3 620.8 379.0 621.0 380.3C621.2 381.6 621.2 381.7 621.2 382.0" fill="none" stroke="#fff" stroke-width="0.85" stroke-opacity="0.9"/>
<text x="528.2" y="310.4" font-size="9.5" text-anchor="middle" fill="#fff">0.2</text>
<text x="554.4" y="336.7" font-size="9.5" text-anchor="middle" fill="#fff">0.4</text>
<text x="585.2" y="354.7" font-size="9.5" text-anchor="middle" fill="#fff">0.6</text>
<text x="620.2" y="370.4" font-size="9.5" text-anchor="middle" fill="#fff">0.8</text>
<linearGradient id="ei" x1="592.6" y1="0" x2="649.7" y2="0" gradientUnits="userSpaceOnUse"><stop offset="0" stop-color="#eef2f6"/><stop offset="0.18" stop-color="#b4cae2"/><stop offset="0.4" stop-color="#92a8d0"/><stop offset="0.55" stop-color="#8a78b0"/><stop offset="0.75" stop-color="#82409a"/><stop offset="1" stop-color="#6a1a70"/></linearGradient>
<path d="M592.6 37.6L592.6 94.7L649.7 94.7Z" fill="url(#ei)"/>
<path d="M604.3 51.0C604.0 52.3 602.9 55.1 602.5 58.6C602.1 62.1 601.9 67.5 601.8 72.0C601.7 76.5 601.7 81.7 601.8 85.5C601.9 89.3 602.2 93.2 602.3 94.7" fill="none" stroke="#fff" stroke-width="0.8" stroke-opacity="0.9"/>
<path d="M626.2 70.7C625.8 71.8 624.5 74.6 624.0 77.1C623.5 79.6 623.3 82.6 623.3 85.5C623.3 88.4 623.9 93.2 624.0 94.7" fill="none" stroke="#fff" stroke-width="0.8" stroke-opacity="0.9"/>
<text x="607.8" y="79.6" font-size="9.5" text-anchor="middle" fill="#fff">10</text>
<text x="630.9" y="88.0" font-size="9.5" text-anchor="middle" fill="#fff">30</text>
<rect x="51.6" y="29.4" width="155.7" height="154.9" fill="none" stroke="#959595" stroke-width="1.1"/>
<path d="M67.2 184.3v-2.2M67.2 29.4v2.2M51.6 168.8h2.2M207.3 168.8h-2.2M82.7 184.3v-2.2M82.7 29.4v2.2M51.6 153.3h2.2M207.3 153.3h-2.2M98.3 184.3v-2.2M98.3 29.4v2.2M51.6 137.8h2.2M207.3 137.8h-2.2M113.9 184.3v-2.2M113.9 29.4v2.2M51.6 122.3h2.2M207.3 122.3h-2.2M129.5 184.3v-2.2M129.5 29.4v2.2M51.6 106.9h2.2M207.3 106.9h-2.2M145.0 184.3v-2.2M145.0 29.4v2.2M51.6 91.4h2.2M207.3 91.4h-2.2M160.6 184.3v-2.2M160.6 29.4v2.2M51.6 75.9h2.2M207.3 75.9h-2.2M176.2 184.3v-2.2M176.2 29.4v2.2M51.6 60.4h2.2M207.3 60.4h-2.2M191.7 184.3v-2.2M191.7 29.4v2.2M51.6 44.9h2.2M207.3 44.9h-2.2" stroke="#909090" stroke-width="0.9" fill="none"/>
<rect x="51.5" y="232.6" width="155.7" height="155.1" fill="none" stroke="#959595" stroke-width="1.1"/>
<path d="M67.1 387.7v-2.2M67.1 232.6v2.2M82.6 387.7v-2.2M82.6 232.6v2.2M51.5 356.7h2.2M207.2 356.7h-2.2M98.2 387.7v-2.2M98.2 232.6v2.2M113.8 387.7v-2.2M113.8 232.6v2.2M51.5 325.7h2.2M207.2 325.7h-2.2M129.3 387.7v-2.2M129.3 232.6v2.2M144.9 387.7v-2.2M144.9 232.6v2.2M51.5 294.6h2.2M207.2 294.6h-2.2M160.5 387.7v-2.2M160.5 232.6v2.2M176.1 387.7v-2.2M176.1 232.6v2.2M51.5 263.6h2.2M207.2 263.6h-2.2M191.6 387.7v-2.2M191.6 232.6v2.2" stroke="#909090" stroke-width="0.9" fill="none"/>
<rect x="277.8" y="29.3" width="155.8" height="155.1" fill="none" stroke="#959595" stroke-width="1.1"/>
<path d="M293.4 184.4v-2.2M293.4 29.3v2.2M277.8 168.9h2.2M433.6 168.9h-2.2M309.0 184.4v-2.2M309.0 29.3v2.2M277.8 153.4h2.2M433.6 153.4h-2.2M324.5 184.4v-2.2M324.5 29.3v2.2M277.8 137.9h2.2M433.6 137.9h-2.2M340.1 184.4v-2.2M340.1 29.3v2.2M277.8 122.4h2.2M433.6 122.4h-2.2M355.7 184.4v-2.2M355.7 29.3v2.2M277.8 106.9h2.2M433.6 106.9h-2.2M371.3 184.4v-2.2M371.3 29.3v2.2M277.8 91.3h2.2M433.6 91.3h-2.2M386.9 184.4v-2.2M386.9 29.3v2.2M277.8 75.8h2.2M433.6 75.8h-2.2M402.4 184.4v-2.2M402.4 29.3v2.2M277.8 60.3h2.2M433.6 60.3h-2.2M418.0 184.4v-2.2M418.0 29.3v2.2M277.8 44.8h2.2M433.6 44.8h-2.2" stroke="#909090" stroke-width="0.9" fill="none"/>
<rect x="277.0" y="231.7" width="155.4" height="155.2" fill="none" stroke="#959595" stroke-width="1.1"/>
<path d="M292.5 386.9v-2.2M292.5 231.7v2.2M308.1 386.9v-2.2M308.1 231.7v2.2M277.0 355.9h2.2M432.4 355.9h-2.2M323.6 386.9v-2.2M323.6 231.7v2.2M339.2 386.9v-2.2M339.2 231.7v2.2M277.0 324.8h2.2M432.4 324.8h-2.2M354.7 386.9v-2.2M354.7 231.7v2.2M370.2 386.9v-2.2M370.2 231.7v2.2M277.0 293.8h2.2M432.4 293.8h-2.2M385.8 386.9v-2.2M385.8 231.7v2.2M401.3 386.9v-2.2M401.3 231.7v2.2M277.0 262.7h2.2M432.4 262.7h-2.2M416.9 386.9v-2.2M416.9 231.7v2.2" stroke="#909090" stroke-width="0.9" fill="none"/>
<rect x="503.4" y="29.4" width="155.0" height="154.7" fill="none" stroke="#959595" stroke-width="1.1"/>
<path d="M518.9 184.1v-2.2M518.9 29.4v2.2M503.4 168.6h2.2M658.4 168.6h-2.2M534.4 184.1v-2.2M534.4 29.4v2.2M503.4 153.2h2.2M658.4 153.2h-2.2M549.9 184.1v-2.2M549.9 29.4v2.2M503.4 137.7h2.2M658.4 137.7h-2.2M565.4 184.1v-2.2M565.4 29.4v2.2M503.4 122.2h2.2M658.4 122.2h-2.2M580.9 184.1v-2.2M580.9 29.4v2.2M503.4 106.8h2.2M658.4 106.8h-2.2M596.4 184.1v-2.2M596.4 29.4v2.2M503.4 91.3h2.2M658.4 91.3h-2.2M611.9 184.1v-2.2M611.9 29.4v2.2M503.4 75.8h2.2M658.4 75.8h-2.2M627.4 184.1v-2.2M627.4 29.4v2.2M503.4 60.3h2.2M658.4 60.3h-2.2M642.9 184.1v-2.2M642.9 29.4v2.2M503.4 44.9h2.2M658.4 44.9h-2.2" stroke="#909090" stroke-width="0.9" fill="none"/>
<rect x="502.6" y="231.6" width="155.8" height="155.0" fill="none" stroke="#959595" stroke-width="1.1"/>
<path d="M518.2 386.6v-2.2M518.2 231.6v2.2M502.6 371.1h2.2M658.4 371.1h-2.2M533.8 386.6v-2.2M533.8 231.6v2.2M502.6 355.6h2.2M658.4 355.6h-2.2M549.3 386.6v-2.2M549.3 231.6v2.2M502.6 340.1h2.2M658.4 340.1h-2.2M564.9 386.6v-2.2M564.9 231.6v2.2M502.6 324.6h2.2M658.4 324.6h-2.2M580.5 386.6v-2.2M580.5 231.6v2.2M502.6 309.1h2.2M658.4 309.1h-2.2M596.1 386.6v-2.2M596.1 231.6v2.2M502.6 293.6h2.2M658.4 293.6h-2.2M611.7 386.6v-2.2M611.7 231.6v2.2M502.6 278.1h2.2M658.4 278.1h-2.2M627.2 386.6v-2.2M627.2 231.6v2.2M502.6 262.6h2.2M658.4 262.6h-2.2M642.8 386.6v-2.2M642.8 231.6v2.2M502.6 247.1h2.2M658.4 247.1h-2.2" stroke="#909090" stroke-width="0.9" fill="none"/>
<text x="48.7" y="40.1" font-size="10" text-anchor="end" fill="#222">100</text>
<text x="48.7" y="111.7" font-size="10" text-anchor="end" fill="#222">50</text>
<text x="48.7" y="186.6" font-size="10" text-anchor="end" fill="#222">0</text>
<text x="275.3" y="40.1" font-size="10" text-anchor="end" fill="#222">100</text>
<text x="275.3" y="111.1" font-size="10" text-anchor="end" fill="#222">50</text>
<text x="275.3" y="186.6" font-size="10" text-anchor="end" fill="#222">0</text>
<text x="500.2" y="40.1" font-size="10" text-anchor="end" fill="#222">100</text>
<text x="500.2" y="111.1" font-size="10" text-anchor="end" fill="#222">50</text>
<text x="500.2" y="186.0" font-size="10" text-anchor="end" fill="#222">0</text>
<text x="48.8" y="239.7" font-size="10" text-anchor="end" fill="#222">100</text>
<text x="48.8" y="311.5" font-size="10" text-anchor="end" fill="#222">50</text>
<text x="48.8" y="387.3" font-size="10" text-anchor="end" fill="#222">0</text>
<text x="275.7" y="239.7" font-size="10" text-anchor="end" fill="#222">100</text>
<text x="275.7" y="311.5" font-size="10" text-anchor="end" fill="#222">50</text>
<text x="275.7" y="387.2" font-size="10" text-anchor="end" fill="#222">0</text>
<text x="500.7" y="239.8" font-size="10" text-anchor="end" fill="#222">100</text>
<text x="500.7" y="311.5" font-size="10" text-anchor="end" fill="#222">50</text>
<text x="500.7" y="387.0" font-size="10" text-anchor="end" fill="#222">0</text>
<text x="47.8" y="196.3" font-size="10" text-anchor="middle" fill="#222">0</text>
<text x="126.6" y="196.3" font-size="10" text-anchor="middle" fill="#222">50</text>
<text x="202.5" y="196.3" font-size="10" text-anchor="middle" fill="#222">100</text>
<text x="274.3" y="196.5" font-size="10" text-anchor="middle" fill="#222">0</text>
<text x="349.1" y="196.5" font-size="10" text-anchor="middle" fill="#222">50</text>
<text x="427.4" y="196.5" font-size="10" text-anchor="middle" fill="#222">100</text>
<text x="500.2" y="196.7" font-size="10" text-anchor="middle" fill="#222">0</text>
<text x="575.5" y="196.7" font-size="10" text-anchor="middle" fill="#222">50</text>
<text x="656.2" y="196.7" font-size="10" text-anchor="middle" fill="#222">100</text>
<text x="47.7" y="397.4" font-size="10" text-anchor="middle" fill="#222">0</text>
<text x="126.5" y="397.4" font-size="10" text-anchor="middle" fill="#222">50</text>
<text x="202.5" y="397.4" font-size="10" text-anchor="middle" fill="#222">100</text>
<text x="274.3" y="397.6" font-size="10" text-anchor="middle" fill="#222">0</text>
<text x="349.0" y="397.6" font-size="10" text-anchor="middle" fill="#222">50</text>
<text x="427.6" y="397.6" font-size="10" text-anchor="middle" fill="#222">100</text>
<text x="500.4" y="398.0" font-size="10" text-anchor="middle" fill="#222">0</text>
<text x="575.2" y="398.0" font-size="10" text-anchor="middle" fill="#222">50</text>
<text x="657.0" y="398.0" font-size="10" text-anchor="middle" fill="#222">100</text>
<text x="13.2" y="23.0" font-size="16" fill="#222">A</text>
<text x="10.6" y="228.7" font-size="16" fill="#222">B</text>
<text x="249.0" y="23.0" font-size="16" fill="#222">C</text>
<text x="250.1" y="225.8" font-size="16" fill="#222">D</text>
<text x="481.0" y="22.7" font-size="16" fill="#222">E</text>
<text x="481.2" y="226.9" font-size="16" fill="#222">F</text>
<text transform="translate(25.2 108.7) rotate(-90)" font-size="11.75" text-anchor="middle" fill="#222">Feeding apparatus Af, %</text>
<text transform="translate(25.2 312.0) rotate(-90)" font-size="11.75" text-anchor="middle" fill="#222">Feeding apparatus Af, %</text>
<text transform="translate(11.9 105.8) rotate(-90)" font-size="13" font-weight="bold" text-anchor="middle" fill="#111">Motile</text>
<text transform="translate(11.9 306.2) rotate(-90)" font-size="13" font-weight="bold" text-anchor="middle" fill="#111">Sessile</text>
<text x="127.9" y="412.9" font-size="11.75" text-anchor="middle" fill="#222">Cilia coverage Ac, %</text>
<text x="355.2" y="412.9" font-size="11.75" text-anchor="middle" fill="#222">Cilia coverage Ac, %</text>
<text x="581.3" y="413.2" font-size="11.75" text-anchor="middle" fill="#222">Cilia coverage Ac, %</text>
<text x="594.3" y="23.9" font-size="13.2" text-anchor="middle" font-weight="bold" fill="#111" letter-spacing="0.17">Swimming speed</text>
<text x="584.9" y="220.1" font-size="13.2" text-anchor="middle" font-weight="bold" fill="#111" letter-spacing="0.22">Attachment force</text>
<text x="217.9" y="9.6" font-size="13" text-anchor="middle" fill="#222">Q</text>
<path d="M207.0 14.1h21.8" stroke="#a0a0a0" stroke-width="1.4"/>
<text x="206.8" y="27.5" font-size="13" fill="#222">a<tspan font-size="9.5" dy="-3.1">2</tspan><tspan dy="3.1">U</tspan></text>
<text x="217.8" y="214.9" font-size="13" text-anchor="middle" fill="#222">Q</text>
<path d="M206.9 218.3h21.8" stroke="#8c8c8c" stroke-width="1.4"/>
<text x="206.7" y="230.3" font-size="13" fill="#222">a<tspan font-size="9.5" dy="-3.1">2</tspan><tspan dy="3.1">U</tspan></text>
<text x="442.7" y="26.5" font-size="12.5" text-anchor="middle" fill="#222">Sh</text>
<text x="442.7" y="226.1" font-size="12.5" text-anchor="middle" fill="#222">Sh</text>
<text x="669.7" y="24.1" font-size="12.5" text-anchor="middle" fill="#222">U</text>
<text x="661.1" y="212.3" font-size="12" text-anchor="middle" fill="#222">F</text>
<path d="M649.2 215.4h21.8" stroke="#666" stroke-width="1.2"/>
<text x="660.9" y="228.0" font-size="12" text-anchor="middle" fill="#222">4πηa</text>
<rect x="211.5" y="33.7" width="11.0" height="108.6" fill="url(#cbA)" stroke="#8a8a8a" stroke-width="1"/>
<path d="M222.5 132.2h-2M222.5 122.1h-2M222.5 112.0h-2M222.5 101.9h-2M222.5 91.8h-2M222.5 81.7h-2M222.5 71.6h-2M222.5 61.5h-2M222.5 51.4h-2M222.5 41.3h-2" stroke="#8a8a8a" stroke-width="0.8"/>
<text x="226.4" y="46.0" font-size="10" fill="#222">.34</text>
<text x="225.6" y="145.5" font-size="10" fill="#222">0</text>
<rect x="212.8" y="235.4" width="10.9" height="109.1" fill="url(#cbB)" stroke="#8a8a8a" stroke-width="1"/>
<path d="M223.7 334.4h-2M223.7 324.4h-2M223.7 314.3h-2M223.7 304.3h-2M223.7 294.2h-2M223.7 284.2h-2M223.7 274.1h-2M223.7 264.1h-2M223.7 254.0h-2M223.7 244.0h-2" stroke="#8a8a8a" stroke-width="0.8"/>
<text x="226.2" y="242.6" font-size="10" fill="#222">.18</text>
<text x="225.6" y="345.5" font-size="10" fill="#222">0</text>
<rect x="438.0" y="31.0" width="10.7" height="117.5" fill="url(#cbC)" stroke="#8a8a8a" stroke-width="1"/>
<path d="M448.7 109.3h-2M448.7 70.2h-2" stroke="#8a8a8a" stroke-width="0.8"/>
<text x="452.2" y="37.8" font-size="10" fill="#222">2.8</text>
<text x="449.2" y="148.1" font-size="10" fill="#222">1.8</text>
<rect x="436.8" y="233.1" width="11.0" height="116.9" fill="url(#cbD)" stroke="#8a8a8a" stroke-width="1"/>
<path d="M447.8 311.0h-2M447.8 272.1h-2" stroke="#8a8a8a" stroke-width="0.8"/>
<text x="452.2" y="239.7" font-size="10" fill="#222">2.6</text>
<text x="449.2" y="349.6" font-size="10" fill="#222">1.5</text>
<rect x="664.4" y="31.0" width="10.7" height="108.1" fill="url(#cbE)" stroke="#8a8a8a" stroke-width="1"/>
<path d="M675.1 128.6h-2M675.1 118.1h-2M675.1 107.6h-2M675.1 97.1h-2M675.1 86.6h-2M675.1 76.1h-2M675.1 65.6h-2M675.1 55.1h-2M675.1 44.6h-2M675.1 34.1h-2" stroke="#8a8a8a" stroke-width="0.8"/>
<text x="676.1" y="37.7" font-size="10" fill="#222">.7</text>
<text x="679.3" y="139.5" font-size="10" fill="#222">0</text>
<rect x="663.5" y="233.5" width="11.2" height="108.7" fill="url(#cbF)" stroke="#8a8a8a" stroke-width="1"/>
<path d="M674.7 331.3h-2M674.7 320.4h-2M674.7 309.5h-2M674.7 298.6h-2M674.7 287.7h-2M674.7 276.8h-2M674.7 265.9h-2M674.7 255.0h-2M674.7 244.1h-2" stroke="#8a8a8a" stroke-width="0.8"/>
<text x="676.6" y="238.8" font-size="10" fill="#222">1</text>
<text x="677.9" y="342.0" font-size="10" fill="#222">0</text>
<rect x="137.3" y="35.5" width="62.1" height="61.6" fill="none" stroke="#444" stroke-width="0.95"/>
<path d="M143.5 97.1v-1.6M143.5 35.5v1.6M137.3 41.7h1.6M199.4 41.7h-1.6M149.7 97.1v-1.6M149.7 35.5v1.6M137.3 47.8h1.6M199.4 47.8h-1.6M155.9 97.1v-1.6M155.9 35.5v1.6M137.3 54.0h1.6M199.4 54.0h-1.6M162.1 97.1v-1.6M162.1 35.5v1.6M137.3 60.1h1.6M199.4 60.1h-1.6M168.4 97.1v-1.6M168.4 35.5v1.6M137.3 66.3h1.6M199.4 66.3h-1.6M174.6 97.1v-1.6M174.6 35.5v1.6M137.3 72.5h1.6M199.4 72.5h-1.6M180.8 97.1v-1.6M180.8 35.5v1.6M137.3 78.6h1.6M199.4 78.6h-1.6M187.0 97.1v-1.6M187.0 35.5v1.6M137.3 84.8h1.6M199.4 84.8h-1.6M193.2 97.1v-1.6M193.2 35.5v1.6M137.3 90.9h1.6M199.4 90.9h-1.6" stroke="#666" stroke-width="0.75"/>
<path d="M152.5 51.2C148 55 143 64 141.4 78S140.2 92 140.2 94.8C158 94.4 176 93.8 194.8 93.3Z" fill="#dcc8e4" stroke="#a232a6" stroke-width="1.25" stroke-linejoin="round"/>
<text x="168.6" y="47.1" font-size="10" text-anchor="middle" fill="#222">bodyvolume</text>
<path d="M143.5 49.4h51.2" stroke="#666" stroke-width="0.9"/>
<text x="169.5" y="58.5" font-size="10" text-anchor="middle" fill="#222">hour</text>
<text x="142.6" y="86.1" font-size="10" fill="#222">Q &gt; 10<tspan font-size="8.8" dy="-2.9" dx="0.3">4</tspan></text>
<rect x="137.3" y="239.1" width="62.1" height="61.7" fill="none" stroke="#444" stroke-width="0.95"/>
<path d="M143.5 300.8v-1.6M143.5 239.1v1.6M137.3 245.3h1.6M199.4 245.3h-1.6M149.7 300.8v-1.6M149.7 239.1v1.6M137.3 251.4h1.6M199.4 251.4h-1.6M155.9 300.8v-1.6M155.9 239.1v1.6M137.3 257.6h1.6M199.4 257.6h-1.6M162.1 300.8v-1.6M162.1 239.1v1.6M137.3 263.8h1.6M199.4 263.8h-1.6M168.4 300.8v-1.6M168.4 239.1v1.6M137.3 269.9h1.6M199.4 269.9h-1.6M174.6 300.8v-1.6M174.6 239.1v1.6M137.3 276.1h1.6M199.4 276.1h-1.6M180.8 300.8v-1.6M180.8 239.1v1.6M137.3 282.3h1.6M199.4 282.3h-1.6M187.0 300.8v-1.6M187.0 239.1v1.6M137.3 288.5h1.6M199.4 288.5h-1.6M193.2 300.8v-1.6M193.2 239.1v1.6M137.3 294.6h1.6M199.4 294.6h-1.6" stroke="#666" stroke-width="0.75"/>
<path d="M139.9 298.2C140 290 142 282 146.3 277.1S156 271.5 169.6 271.3L192.5 294.2C175 295.8 158 297.6 139.9 298.2Z" fill="#c9d3eb" stroke="#3a88cf" stroke-width="1.25" stroke-linejoin="round"/>
<text x="168.1" y="251.7" font-size="10" text-anchor="middle" fill="#222">bodyvolume</text>
<path d="M142.1 254.2h50.9" stroke="#666" stroke-width="0.9"/>
<text x="168.0" y="263.9" font-size="10" text-anchor="middle" fill="#222">hour</text>
<text x="145.2" y="289.3" font-size="10" fill="#222">Q &gt; 10<tspan font-size="8.8" dy="-2.9" dx="0.3">4</tspan></text>
<rect x="364.3" y="35.4" width="61.7" height="61.4" fill="none" stroke="#444" stroke-width="0.95"/>
<path d="M370.5 96.8v-1.6M370.5 35.4v1.6M364.3 41.5h1.6M426.0 41.5h-1.6M376.6 96.8v-1.6M376.6 35.4v1.6M364.3 47.7h1.6M426.0 47.7h-1.6M382.8 96.8v-1.6M382.8 35.4v1.6M364.3 53.8h1.6M426.0 53.8h-1.6M389.0 96.8v-1.6M389.0 35.4v1.6M364.3 60.0h1.6M426.0 60.0h-1.6M395.1 96.8v-1.6M395.1 35.4v1.6M364.3 66.1h1.6M426.0 66.1h-1.6M401.3 96.8v-1.6M401.3 35.4v1.6M364.3 72.2h1.6M426.0 72.2h-1.6M407.5 96.8v-1.6M407.5 35.4v1.6M364.3 78.4h1.6M426.0 78.4h-1.6M413.7 96.8v-1.6M413.7 35.4v1.6M364.3 84.5h1.6M426.0 84.5h-1.6M419.8 96.8v-1.6M419.8 35.4v1.6M364.3 90.7h1.6M426.0 90.7h-1.6" stroke="#666" stroke-width="0.75"/>
<path d="M368.7 39.6C367.3 41 367.1 44 367.1 47L367.1 93.6L422.6 93.1Z" fill="#e6d6ea" stroke="#a232a6" stroke-width="1.25" stroke-linejoin="round"/>
<text x="387.5" y="81.6" font-size="10" text-anchor="middle" fill="#222">Sh&gt;2</text>
<rect x="363.1" y="238.2" width="62.2" height="61.9" fill="none" stroke="#444" stroke-width="0.95"/>
<path d="M369.3 300.1v-1.6M369.3 238.2v1.6M363.1 244.4h1.6M425.3 244.4h-1.6M375.5 300.1v-1.6M375.5 238.2v1.6M363.1 250.6h1.6M425.3 250.6h-1.6M381.8 300.1v-1.6M381.8 238.2v1.6M363.1 256.8h1.6M425.3 256.8h-1.6M388.0 300.1v-1.6M388.0 238.2v1.6M363.1 263.0h1.6M425.3 263.0h-1.6M394.2 300.1v-1.6M394.2 238.2v1.6M363.1 269.1h1.6M425.3 269.1h-1.6M400.4 300.1v-1.6M400.4 238.2v1.6M363.1 275.3h1.6M425.3 275.3h-1.6M406.6 300.1v-1.6M406.6 238.2v1.6M363.1 281.5h1.6M425.3 281.5h-1.6M412.9 300.1v-1.6M412.9 238.2v1.6M363.1 287.7h1.6M425.3 287.7h-1.6M419.1 300.1v-1.6M419.1 238.2v1.6M363.1 293.9h1.6M425.3 293.9h-1.6" stroke="#666" stroke-width="0.75"/>
<path d="M369.4 244.6C368.4 247 367.9 252 367.8 257L366.4 296.3L393.3 296.8L418.6 293.9Z" fill="#d6def1" stroke="#3a88cf" stroke-width="1.25" stroke-linejoin="round"/>
<text x="385.0" y="284.8" font-size="10" text-anchor="middle" fill="#222">Sh&gt;2</text>
<rect x="590.5" y="35.5" width="62.3" height="61.8" fill="none" stroke="#444" stroke-width="0.95"/>
<path d="M596.7 97.3v-1.6M596.7 35.5v1.6M590.5 41.7h1.6M652.8 41.7h-1.6M603.0 97.3v-1.6M603.0 35.5v1.6M590.5 47.9h1.6M652.8 47.9h-1.6M609.2 97.3v-1.6M609.2 35.5v1.6M590.5 54.0h1.6M652.8 54.0h-1.6M615.4 97.3v-1.6M615.4 35.5v1.6M590.5 60.2h1.6M652.8 60.2h-1.6M621.6 97.3v-1.6M621.6 35.5v1.6M590.5 66.4h1.6M652.8 66.4h-1.6M627.9 97.3v-1.6M627.9 35.5v1.6M590.5 72.6h1.6M652.8 72.6h-1.6M634.1 97.3v-1.6M634.1 35.5v1.6M590.5 78.8h1.6M652.8 78.8h-1.6M640.3 97.3v-1.6M640.3 35.5v1.6M590.5 84.9h1.6M652.8 84.9h-1.6M646.6 97.3v-1.6M646.6 35.5v1.6M590.5 91.1h1.6M652.8 91.1h-1.6" stroke="#666" stroke-width="0.75"/>
<text x="627.0" y="45.0" font-size="10" text-anchor="middle" fill="#222">bodylength</text>
<path d="M603.5 48.2h50.5" stroke="#444" stroke-width="0.9"/>
<text x="630.5" y="58.1" font-size="10" text-anchor="middle" fill="#222">second</text>
</svg>
</body></html>
